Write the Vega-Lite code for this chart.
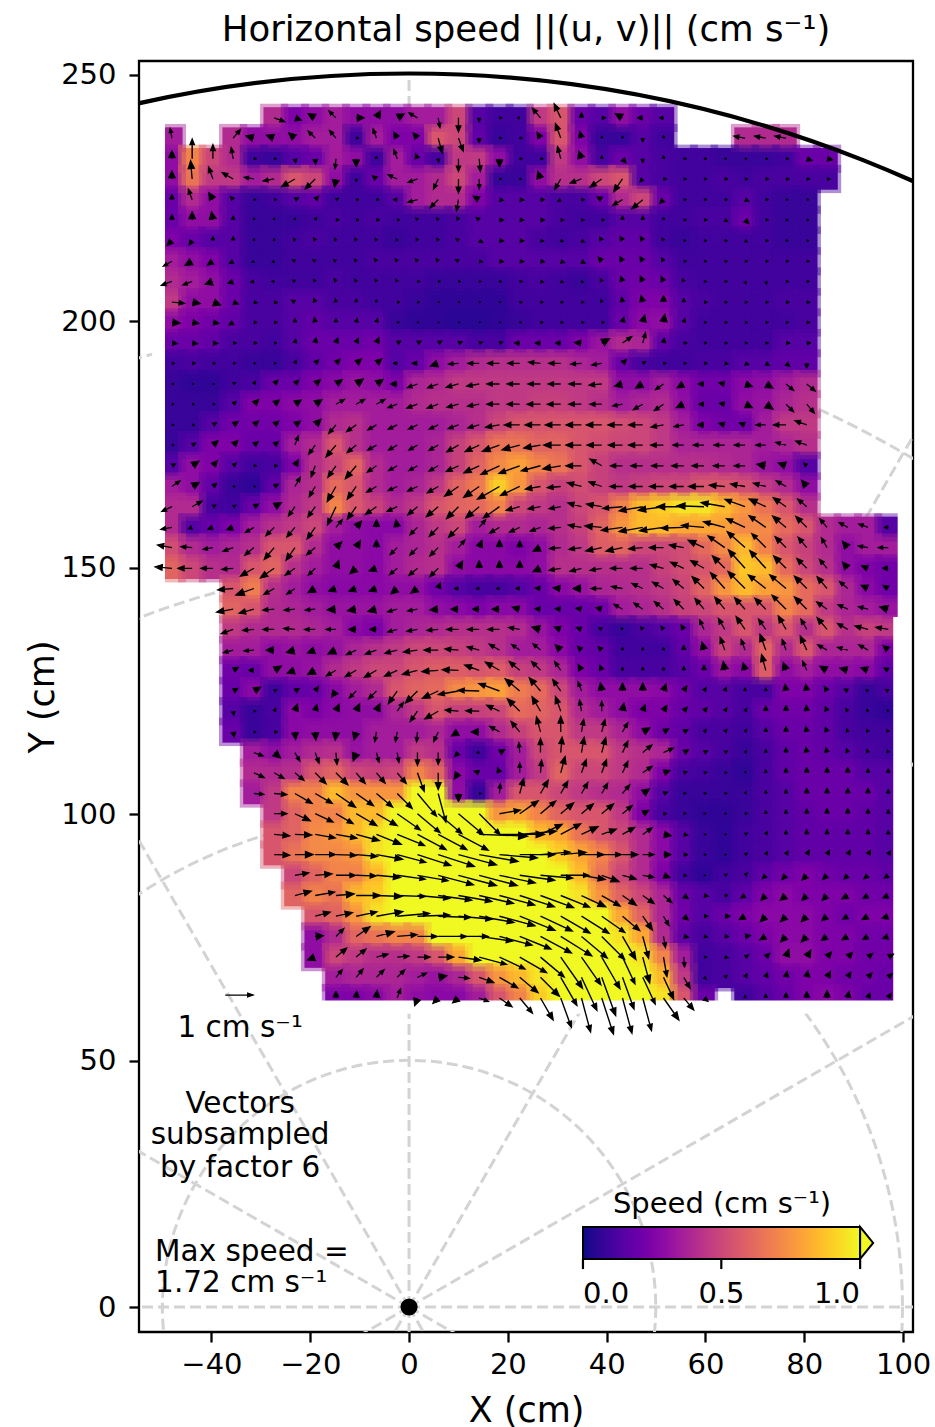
{"$schema":"https://vega.github.io/schema/vega-lite/v6.json","width":774,"height":1271,"autosize":{"type":"none"},"padding":{"left":139,"top":61,"right":22,"bottom":95},"background":"white","config":{"view":{"stroke":"black","strokeWidth":2.3},"font":"DejaVu Sans"},"title":{"text":"Horizontal speed ||(u, v)|| (cm s⁻¹)","font":"DejaVu Sans","fontSize":35.5,"fontWeight":"normal","color":"black","anchor":"middle","offset":12},
"data":{"values":[
{"x":-27.3,"y":241.3,"s":0.4,"a":110},{"x":-23.1,"y":241.3,"s":0.25,"a":110},{"x":-19,"y":241.3,"s":0.3,"a":300},{"x":-14.8,"y":241.3,"s":0.35,"a":315},{"x":-10.7,"y":241.3,"s":0.3,"a":90},{"x":-6.6,"y":241.3,"s":0.3,"a":30},{"x":-2.4,"y":241.3,"s":0.3,"a":60},{"x":1.7,"y":241.3,"s":0.35,"a":300},{"x":5.9,"y":241.3,"s":0.35,"a":170},{"x":10,"y":241.3,"s":0.5,"a":180},{"x":14.2,"y":241.3,"s":0.15,"a":180},{"x":18.3,"y":241.3,"s":0.1,"a":90},{"x":22.4,"y":241.3,"s":0.1,"a":270},{"x":26.6,"y":241.3,"s":0.45,"a":320},{"x":30.7,"y":241.3,"s":0.55,"a":335},{"x":34.9,"y":241.3,"s":0.2,"a":0},{"x":39,"y":241.3,"s":0.15,"a":90},{"x":43.2,"y":241.3,"s":0.3,"a":300},{"x":47.3,"y":241.3,"s":0.2,"a":270},{"x":51.5,"y":241.3,"s":0.15,"a":270},
{"x":-48,"y":237.2,"s":0.35,"a":350},{"x":-35.6,"y":237.2,"s":0.4,"a":40},{"x":-31.4,"y":237.2,"s":0.3,"a":285},{"x":-27.3,"y":237.2,"s":0.3,"a":290},{"x":-23.1,"y":237.2,"s":0.3,"a":310},{"x":-19,"y":237.2,"s":0.35,"a":315},{"x":-14.8,"y":237.2,"s":0.35,"a":320},{"x":-10.7,"y":237.2,"s":0.1,"a":90},{"x":-6.6,"y":237.2,"s":0.35,"a":340},{"x":-2.4,"y":237.2,"s":0.25,"a":330},{"x":1.7,"y":237.2,"s":0.25,"a":320},{"x":5.9,"y":237.2,"s":0.55,"a":165},{"x":10,"y":237.2,"s":0.5,"a":160},{"x":14.2,"y":237.2,"s":0.18,"a":180},{"x":18.3,"y":237.2,"s":0.08,"a":90},{"x":22.4,"y":237.2,"s":0.1,"a":90},{"x":26.6,"y":237.2,"s":0.25,"a":330},{"x":30.7,"y":237.2,"s":0.55,"a":340},{"x":34.9,"y":237.2,"s":0.25,"a":345},{"x":39,"y":237.2,"s":0.08,"a":0},{"x":43.2,"y":237.2,"s":0.08,"a":0},{"x":47.3,"y":237.2,"s":0.15,"a":180},{"x":51.5,"y":237.2,"s":0.1,"a":0},{"x":68,"y":237.2,"s":0.4,"a":280},{"x":72.2,"y":237.2,"s":0.4,"a":280},{"x":76.3,"y":237.2,"s":0.4,"a":280},
{"x":-48,"y":233,"s":0.3,"a":0},{"x":-43.9,"y":233,"s":0.7,"a":0},{"x":-39.7,"y":233,"s":0.5,"a":0},{"x":-35.6,"y":233,"s":0.4,"a":350},{"x":-31.4,"y":233,"s":0.1,"a":90},{"x":-27.3,"y":233,"s":0.08,"a":90},{"x":-23.1,"y":233,"s":0.15,"a":170},{"x":-19,"y":233,"s":0.2,"a":175},{"x":-14.8,"y":233,"s":0.35,"a":185},{"x":-10.7,"y":233,"s":0.3,"a":180},{"x":-6.6,"y":233,"s":0.1,"a":0},{"x":-2.4,"y":233,"s":0.35,"a":340},{"x":1.7,"y":233,"s":0.2,"a":340},{"x":5.9,"y":233,"s":0.12,"a":170},{"x":10,"y":233,"s":0.45,"a":180},{"x":14.2,"y":233,"s":0.45,"a":175},{"x":18.3,"y":233,"s":0.3,"a":180},{"x":22.4,"y":233,"s":0.1,"a":90},{"x":26.6,"y":233,"s":0.1,"a":90},{"x":30.7,"y":233,"s":0.45,"a":345},{"x":34.9,"y":233,"s":0.3,"a":340},{"x":39,"y":233,"s":0.12,"a":0},{"x":43.2,"y":233,"s":0.2,"a":140},{"x":47.3,"y":233,"s":0.15,"a":180},{"x":51.5,"y":233,"s":0.12,"a":0},{"x":55.6,"y":233,"s":0.1,"a":90},{"x":59.7,"y":233,"s":0.1,"a":90},{"x":63.9,"y":233,"s":0.08,"a":90},{"x":68,"y":233,"s":0.08,"a":90},{"x":72.2,"y":233,"s":0.08,"a":90},{"x":76.3,"y":233,"s":0.1,"a":90},{"x":80.5,"y":233,"s":0.2,"a":110},{"x":84.6,"y":233,"s":0.2,"a":100},
{"x":-48,"y":228.9,"s":0.3,"a":0},{"x":-43.9,"y":228.9,"s":0.65,"a":355},{"x":-39.7,"y":228.9,"s":0.45,"a":340},{"x":-35.6,"y":228.9,"s":0.45,"a":300},{"x":-31.4,"y":228.9,"s":0.35,"a":280},{"x":-27.3,"y":228.9,"s":0.4,"a":260},{"x":-23.1,"y":228.9,"s":0.55,"a":240},{"x":-19,"y":228.9,"s":0.5,"a":225},{"x":-14.8,"y":228.9,"s":0.3,"a":190},{"x":-10.7,"y":228.9,"s":0.1,"a":180},{"x":-6.6,"y":228.9,"s":0.2,"a":310},{"x":-2.4,"y":228.9,"s":0.35,"a":295},{"x":1.7,"y":228.9,"s":0.35,"a":250},{"x":5.9,"y":228.9,"s":0.4,"a":205},{"x":10,"y":228.9,"s":0.5,"a":180},{"x":14.2,"y":228.9,"s":0.35,"a":180},{"x":18.3,"y":228.9,"s":0.08,"a":90},{"x":22.4,"y":228.9,"s":0.08,"a":90},{"x":26.6,"y":228.9,"s":0.3,"a":340},{"x":30.7,"y":228.9,"s":0.42,"a":210},{"x":34.9,"y":228.9,"s":0.42,"a":250},{"x":39,"y":228.9,"s":0.5,"a":235},{"x":43.2,"y":228.9,"s":0.55,"a":215},{"x":47.3,"y":228.9,"s":0.15,"a":225},{"x":51.5,"y":228.9,"s":0.12,"a":90},{"x":55.6,"y":228.9,"s":0.1,"a":90},{"x":59.7,"y":228.9,"s":0.1,"a":90},{"x":63.9,"y":228.9,"s":0.12,"a":90},{"x":68,"y":228.9,"s":0.1,"a":90},{"x":72.2,"y":228.9,"s":0.12,"a":90},{"x":76.3,"y":228.9,"s":0.12,"a":90},{"x":80.5,"y":228.9,"s":0.12,"a":90},{"x":84.6,"y":228.9,"s":0.12,"a":90},
{"x":-48,"y":224.7,"s":0.2,"a":0},{"x":-43.9,"y":224.7,"s":0.4,"a":340},{"x":-39.7,"y":224.7,"s":0.3,"a":330},{"x":-35.6,"y":224.7,"s":0.15,"a":320},{"x":-31.4,"y":224.7,"s":0.08,"a":90},{"x":-27.3,"y":224.7,"s":0.1,"a":90},{"x":-23.1,"y":224.7,"s":0.15,"a":60},{"x":-19,"y":224.7,"s":0.18,"a":45},{"x":-14.8,"y":224.7,"s":0.1,"a":60},{"x":-10.7,"y":224.7,"s":0.1,"a":90},{"x":-6.6,"y":224.7,"s":0.1,"a":90},{"x":-2.4,"y":224.7,"s":0.15,"a":270},{"x":1.7,"y":224.7,"s":0.35,"a":255},{"x":5.9,"y":224.7,"s":0.4,"a":225},{"x":10,"y":224.7,"s":0.4,"a":190},{"x":14.2,"y":224.7,"s":0.25,"a":300},{"x":18.3,"y":224.7,"s":0.15,"a":100},{"x":22.4,"y":224.7,"s":0.15,"a":95},{"x":26.6,"y":224.7,"s":0.15,"a":90},{"x":30.7,"y":224.7,"s":0.12,"a":240},{"x":34.9,"y":224.7,"s":0.12,"a":90},{"x":39,"y":224.7,"s":0.2,"a":300},{"x":43.2,"y":224.7,"s":0.4,"a":240},{"x":47.3,"y":224.7,"s":0.5,"a":230},{"x":51.5,"y":224.7,"s":0.2,"a":225},{"x":55.6,"y":224.7,"s":0.1,"a":90},{"x":59.7,"y":224.7,"s":0.1,"a":90},{"x":63.9,"y":224.7,"s":0.1,"a":90},{"x":68,"y":224.7,"s":0.15,"a":110},{"x":72.2,"y":224.7,"s":0.1,"a":90},{"x":76.3,"y":224.7,"s":0.08,"a":90},{"x":80.5,"y":224.7,"s":0.08,"a":90},
{"x":-48,"y":220.6,"s":0.2,"a":0},{"x":-43.9,"y":220.6,"s":0.3,"a":0},{"x":-39.7,"y":220.6,"s":0.3,"a":350},{"x":-35.6,"y":220.6,"s":0.15,"a":0},{"x":-31.4,"y":220.6,"s":0.08,"a":0},{"x":-27.3,"y":220.6,"s":0.08,"a":0},{"x":-23.1,"y":220.6,"s":0.08,"a":0},{"x":-19,"y":220.6,"s":0.1,"a":30},{"x":-14.8,"y":220.6,"s":0.12,"a":90},{"x":-10.7,"y":220.6,"s":0.1,"a":90},{"x":-6.6,"y":220.6,"s":0.12,"a":90},{"x":-2.4,"y":220.6,"s":0.1,"a":90},{"x":1.7,"y":220.6,"s":0.1,"a":320},{"x":5.9,"y":220.6,"s":0.1,"a":320},{"x":10,"y":220.6,"s":0.12,"a":330},{"x":14.2,"y":220.6,"s":0.15,"a":310},{"x":18.3,"y":220.6,"s":0.15,"a":95},{"x":22.4,"y":220.6,"s":0.15,"a":95},{"x":26.6,"y":220.6,"s":0.15,"a":95},{"x":30.7,"y":220.6,"s":0.12,"a":95},{"x":34.9,"y":220.6,"s":0.1,"a":95},{"x":39,"y":220.6,"s":0.1,"a":90},{"x":43.2,"y":220.6,"s":0.15,"a":0},{"x":47.3,"y":220.6,"s":0.15,"a":0},{"x":51.5,"y":220.6,"s":0.1,"a":0},{"x":55.6,"y":220.6,"s":0.1,"a":90},{"x":59.7,"y":220.6,"s":0.12,"a":90},{"x":63.9,"y":220.6,"s":0.12,"a":120},{"x":68,"y":220.6,"s":0.2,"a":135},{"x":72.2,"y":220.6,"s":0.1,"a":90},{"x":76.3,"y":220.6,"s":0.08,"a":90},{"x":80.5,"y":220.6,"s":0.08,"a":90},
{"x":-48,"y":216.4,"s":0.25,"a":225},{"x":-43.9,"y":216.4,"s":0.2,"a":215},{"x":-39.7,"y":216.4,"s":0.15,"a":0},{"x":-35.6,"y":216.4,"s":0.15,"a":0},{"x":-31.4,"y":216.4,"s":0.08,"a":0},{"x":-27.3,"y":216.4,"s":0.08,"a":0},{"x":-23.1,"y":216.4,"s":0.1,"a":330},{"x":-19,"y":216.4,"s":0.12,"a":330},{"x":-14.8,"y":216.4,"s":0.1,"a":330},{"x":-10.7,"y":216.4,"s":0.1,"a":330},{"x":-6.6,"y":216.4,"s":0.1,"a":330},{"x":-2.4,"y":216.4,"s":0.08,"a":330},{"x":1.7,"y":216.4,"s":0.1,"a":330},{"x":5.9,"y":216.4,"s":0.1,"a":330},{"x":10,"y":216.4,"s":0.12,"a":310},{"x":14.2,"y":216.4,"s":0.15,"a":120},{"x":18.3,"y":216.4,"s":0.15,"a":95},{"x":22.4,"y":216.4,"s":0.15,"a":95},{"x":26.6,"y":216.4,"s":0.12,"a":100},{"x":30.7,"y":216.4,"s":0.1,"a":110},{"x":34.9,"y":216.4,"s":0.12,"a":120},{"x":39,"y":216.4,"s":0.15,"a":330},{"x":43.2,"y":216.4,"s":0.18,"a":330},{"x":47.3,"y":216.4,"s":0.18,"a":330},{"x":51.5,"y":216.4,"s":0.1,"a":330},{"x":55.6,"y":216.4,"s":0.08,"a":90},{"x":59.7,"y":216.4,"s":0.1,"a":90},{"x":63.9,"y":216.4,"s":0.1,"a":90},{"x":68,"y":216.4,"s":0.1,"a":120},{"x":72.2,"y":216.4,"s":0.1,"a":90},{"x":76.3,"y":216.4,"s":0.08,"a":90},{"x":80.5,"y":216.4,"s":0.08,"a":90},
{"x":-48,"y":212.2,"s":0.35,"a":240},{"x":-43.9,"y":212.2,"s":0.3,"a":240},{"x":-39.7,"y":212.2,"s":0.25,"a":235},{"x":-35.6,"y":212.2,"s":0.15,"a":240},{"x":-31.4,"y":212.2,"s":0.08,"a":240},{"x":-27.3,"y":212.2,"s":0.08,"a":240},{"x":-23.1,"y":212.2,"s":0.1,"a":300},{"x":-19,"y":212.2,"s":0.1,"a":300},{"x":-14.8,"y":212.2,"s":0.1,"a":300},{"x":-10.7,"y":212.2,"s":0.1,"a":320},{"x":-6.6,"y":212.2,"s":0.12,"a":320},{"x":-2.4,"y":212.2,"s":0.12,"a":320},{"x":1.7,"y":212.2,"s":0.12,"a":320},{"x":5.9,"y":212.2,"s":0.12,"a":320},{"x":10,"y":212.2,"s":0.12,"a":300},{"x":14.2,"y":212.2,"s":0.12,"a":100},{"x":18.3,"y":212.2,"s":0.15,"a":95},{"x":22.4,"y":212.2,"s":0.15,"a":95},{"x":26.6,"y":212.2,"s":0.15,"a":100},{"x":30.7,"y":212.2,"s":0.15,"a":110},{"x":34.9,"y":212.2,"s":0.15,"a":120},{"x":39,"y":212.2,"s":0.2,"a":320},{"x":43.2,"y":212.2,"s":0.2,"a":330},{"x":47.3,"y":212.2,"s":0.2,"a":330},{"x":51.5,"y":212.2,"s":0.15,"a":330},{"x":55.6,"y":212.2,"s":0.1,"a":90},{"x":59.7,"y":212.2,"s":0.1,"a":90},{"x":63.9,"y":212.2,"s":0.1,"a":90},{"x":68,"y":212.2,"s":0.1,"a":90},{"x":72.2,"y":212.2,"s":0.1,"a":90},{"x":76.3,"y":212.2,"s":0.1,"a":90},{"x":80.5,"y":212.2,"s":0.1,"a":90},
{"x":-48,"y":208.1,"s":0.4,"a":250},{"x":-43.9,"y":208.1,"s":0.35,"a":250},{"x":-39.7,"y":208.1,"s":0.3,"a":250},{"x":-35.6,"y":208.1,"s":0.2,"a":250},{"x":-31.4,"y":208.1,"s":0.12,"a":260},{"x":-27.3,"y":208.1,"s":0.1,"a":270},{"x":-23.1,"y":208.1,"s":0.1,"a":300},{"x":-19,"y":208.1,"s":0.1,"a":320},{"x":-14.8,"y":208.1,"s":0.12,"a":330},{"x":-10.7,"y":208.1,"s":0.1,"a":330},{"x":-6.6,"y":208.1,"s":0.1,"a":330},{"x":-2.4,"y":208.1,"s":0.1,"a":330},{"x":1.7,"y":208.1,"s":0.1,"a":90},{"x":5.9,"y":208.1,"s":0.08,"a":90},{"x":10,"y":208.1,"s":0.08,"a":90},{"x":14.2,"y":208.1,"s":0.08,"a":90},{"x":18.3,"y":208.1,"s":0.08,"a":90},{"x":22.4,"y":208.1,"s":0.1,"a":90},{"x":26.6,"y":208.1,"s":0.12,"a":100},{"x":30.7,"y":208.1,"s":0.1,"a":110},{"x":34.9,"y":208.1,"s":0.08,"a":110},{"x":39,"y":208.1,"s":0.12,"a":335},{"x":43.2,"y":208.1,"s":0.2,"a":340},{"x":47.3,"y":208.1,"s":0.22,"a":335},{"x":51.5,"y":208.1,"s":0.2,"a":335},{"x":55.6,"y":208.1,"s":0.12,"a":335},{"x":59.7,"y":208.1,"s":0.1,"a":90},{"x":63.9,"y":208.1,"s":0.1,"a":90},{"x":68,"y":208.1,"s":0.1,"a":160},{"x":72.2,"y":208.1,"s":0.1,"a":160},{"x":76.3,"y":208.1,"s":0.1,"a":90},{"x":80.5,"y":208.1,"s":0.1,"a":90},
{"x":-48,"y":203.9,"s":0.45,"a":95},{"x":-43.9,"y":203.9,"s":0.3,"a":100},{"x":-39.7,"y":203.9,"s":0.3,"a":110},{"x":-35.6,"y":203.9,"s":0.2,"a":110},{"x":-31.4,"y":203.9,"s":0.12,"a":100},{"x":-27.3,"y":203.9,"s":0.12,"a":100},{"x":-23.1,"y":203.9,"s":0.15,"a":300},{"x":-19,"y":203.9,"s":0.15,"a":340},{"x":-14.8,"y":203.9,"s":0.12,"a":350},{"x":-10.7,"y":203.9,"s":0.12,"a":0},{"x":-6.6,"y":203.9,"s":0.1,"a":0},{"x":-2.4,"y":203.9,"s":0.1,"a":90},{"x":1.7,"y":203.9,"s":0.08,"a":90},{"x":5.9,"y":203.9,"s":0.06,"a":90},{"x":10,"y":203.9,"s":0.06,"a":90},{"x":14.2,"y":203.9,"s":0.06,"a":90},{"x":18.3,"y":203.9,"s":0.06,"a":90},{"x":22.4,"y":203.9,"s":0.1,"a":90},{"x":26.6,"y":203.9,"s":0.1,"a":90},{"x":30.7,"y":203.9,"s":0.1,"a":90},{"x":34.9,"y":203.9,"s":0.1,"a":90},{"x":39,"y":203.9,"s":0.1,"a":340},{"x":43.2,"y":203.9,"s":0.18,"a":350},{"x":47.3,"y":203.9,"s":0.25,"a":345},{"x":51.5,"y":203.9,"s":0.25,"a":0},{"x":55.6,"y":203.9,"s":0.15,"a":0},{"x":59.7,"y":203.9,"s":0.12,"a":90},{"x":63.9,"y":203.9,"s":0.1,"a":90},{"x":68,"y":203.9,"s":0.1,"a":90},{"x":72.2,"y":203.9,"s":0.1,"a":90},{"x":76.3,"y":203.9,"s":0.12,"a":90},{"x":80.5,"y":203.9,"s":0.12,"a":90},
{"x":-48,"y":199.8,"s":0.3,"a":95},{"x":-43.9,"y":199.8,"s":0.25,"a":100},{"x":-39.7,"y":199.8,"s":0.22,"a":100},{"x":-35.6,"y":199.8,"s":0.18,"a":240},{"x":-31.4,"y":199.8,"s":0.12,"a":90},{"x":-27.3,"y":199.8,"s":0.12,"a":90},{"x":-23.1,"y":199.8,"s":0.15,"a":0},{"x":-19,"y":199.8,"s":0.18,"a":350},{"x":-14.8,"y":199.8,"s":0.15,"a":0},{"x":-10.7,"y":199.8,"s":0.15,"a":15},{"x":-6.6,"y":199.8,"s":0.15,"a":15},{"x":-2.4,"y":199.8,"s":0.08,"a":90},{"x":1.7,"y":199.8,"s":0.06,"a":90},{"x":5.9,"y":199.8,"s":0.06,"a":90},{"x":10,"y":199.8,"s":0.05,"a":90},{"x":14.2,"y":199.8,"s":0.05,"a":90},{"x":18.3,"y":199.8,"s":0.06,"a":90},{"x":22.4,"y":199.8,"s":0.08,"a":90},{"x":26.6,"y":199.8,"s":0.1,"a":90},{"x":30.7,"y":199.8,"s":0.1,"a":90},{"x":34.9,"y":199.8,"s":0.1,"a":90},{"x":39,"y":199.8,"s":0.1,"a":90},{"x":43.2,"y":199.8,"s":0.2,"a":15},{"x":47.3,"y":199.8,"s":0.28,"a":15},{"x":51.5,"y":199.8,"s":0.3,"a":10},{"x":55.6,"y":199.8,"s":0.15,"a":15},{"x":59.7,"y":199.8,"s":0.1,"a":90},{"x":63.9,"y":199.8,"s":0.1,"a":90},{"x":68,"y":199.8,"s":0.1,"a":90},{"x":72.2,"y":199.8,"s":0.1,"a":90},{"x":76.3,"y":199.8,"s":0.1,"a":90},{"x":80.5,"y":199.8,"s":0.12,"a":90},
{"x":-48,"y":195.6,"s":0.2,"a":95},{"x":-43.9,"y":195.6,"s":0.2,"a":95},{"x":-39.7,"y":195.6,"s":0.18,"a":95},{"x":-35.6,"y":195.6,"s":0.12,"a":90},{"x":-31.4,"y":195.6,"s":0.12,"a":90},{"x":-27.3,"y":195.6,"s":0.1,"a":90},{"x":-23.1,"y":195.6,"s":0.15,"a":10},{"x":-19,"y":195.6,"s":0.2,"a":10},{"x":-14.8,"y":195.6,"s":0.2,"a":20},{"x":-10.7,"y":195.6,"s":0.2,"a":25},{"x":-6.6,"y":195.6,"s":0.22,"a":25},{"x":-2.4,"y":195.6,"s":0.15,"a":60},{"x":1.7,"y":195.6,"s":0.15,"a":60},{"x":5.9,"y":195.6,"s":0.15,"a":60},{"x":10,"y":195.6,"s":0.15,"a":70},{"x":14.2,"y":195.6,"s":0.12,"a":70},{"x":18.3,"y":195.6,"s":0.12,"a":70},{"x":22.4,"y":195.6,"s":0.2,"a":270},{"x":26.6,"y":195.6,"s":0.2,"a":270},{"x":30.7,"y":195.6,"s":0.2,"a":270},{"x":34.9,"y":195.6,"s":0.25,"a":275},{"x":39,"y":195.6,"s":0.32,"a":60},{"x":43.2,"y":195.6,"s":0.4,"a":55},{"x":47.3,"y":195.6,"s":0.38,"a":15},{"x":51.5,"y":195.6,"s":0.18,"a":10},{"x":55.6,"y":195.6,"s":0.12,"a":90},{"x":59.7,"y":195.6,"s":0.1,"a":90},{"x":63.9,"y":195.6,"s":0.1,"a":90},{"x":68,"y":195.6,"s":0.1,"a":90},{"x":72.2,"y":195.6,"s":0.1,"a":90},{"x":76.3,"y":195.6,"s":0.15,"a":90},{"x":80.5,"y":195.6,"s":0.15,"a":90},
{"x":-48,"y":191.5,"s":0.1,"a":90},{"x":-43.9,"y":191.5,"s":0.12,"a":90},{"x":-39.7,"y":191.5,"s":0.1,"a":90},{"x":-35.6,"y":191.5,"s":0.1,"a":90},{"x":-31.4,"y":191.5,"s":0.08,"a":90},{"x":-27.3,"y":191.5,"s":0.08,"a":90},{"x":-23.1,"y":191.5,"s":0.12,"a":20},{"x":-19,"y":191.5,"s":0.18,"a":45},{"x":-14.8,"y":191.5,"s":0.22,"a":45},{"x":-10.7,"y":191.5,"s":0.25,"a":50},{"x":-6.6,"y":191.5,"s":0.25,"a":50},{"x":-2.4,"y":191.5,"s":0.15,"a":270},{"x":1.7,"y":191.5,"s":0.2,"a":270},{"x":5.9,"y":191.5,"s":0.3,"a":250},{"x":10,"y":191.5,"s":0.35,"a":265},{"x":14.2,"y":191.5,"s":0.4,"a":270},{"x":18.3,"y":191.5,"s":0.42,"a":270},{"x":22.4,"y":191.5,"s":0.42,"a":270},{"x":26.6,"y":191.5,"s":0.42,"a":275},{"x":30.7,"y":191.5,"s":0.42,"a":270},{"x":34.9,"y":191.5,"s":0.38,"a":265},{"x":39,"y":191.5,"s":0.35,"a":260},{"x":43.2,"y":191.5,"s":0.2,"a":45},{"x":47.3,"y":191.5,"s":0.12,"a":60},{"x":51.5,"y":191.5,"s":0.1,"a":90},{"x":55.6,"y":191.5,"s":0.1,"a":90},{"x":59.7,"y":191.5,"s":0.12,"a":90},{"x":63.9,"y":191.5,"s":0.12,"a":100},{"x":68,"y":191.5,"s":0.15,"a":110},{"x":72.2,"y":191.5,"s":0.15,"a":120},{"x":76.3,"y":191.5,"s":0.18,"a":130},{"x":80.5,"y":191.5,"s":0.18,"a":180},
{"x":-48,"y":187.3,"s":0.08,"a":90},{"x":-43.9,"y":187.3,"s":0.06,"a":90},{"x":-39.7,"y":187.3,"s":0.06,"a":90},{"x":-35.6,"y":187.3,"s":0.1,"a":60},{"x":-31.4,"y":187.3,"s":0.12,"a":30},{"x":-27.3,"y":187.3,"s":0.2,"a":45},{"x":-23.1,"y":187.3,"s":0.2,"a":45},{"x":-19,"y":187.3,"s":0.25,"a":50},{"x":-14.8,"y":187.3,"s":0.28,"a":55},{"x":-10.7,"y":187.3,"s":0.32,"a":55},{"x":-6.6,"y":187.3,"s":0.3,"a":55},{"x":-2.4,"y":187.3,"s":0.25,"a":270},{"x":1.7,"y":187.3,"s":0.38,"a":250},{"x":5.9,"y":187.3,"s":0.4,"a":250},{"x":10,"y":187.3,"s":0.45,"a":255},{"x":14.2,"y":187.3,"s":0.45,"a":260},{"x":18.3,"y":187.3,"s":0.45,"a":270},{"x":22.4,"y":187.3,"s":0.45,"a":270},{"x":26.6,"y":187.3,"s":0.45,"a":270},{"x":30.7,"y":187.3,"s":0.45,"a":270},{"x":34.9,"y":187.3,"s":0.45,"a":270},{"x":39,"y":187.3,"s":0.45,"a":265},{"x":43.2,"y":187.3,"s":0.3,"a":255},{"x":47.3,"y":187.3,"s":0.3,"a":240},{"x":51.5,"y":187.3,"s":0.35,"a":235},{"x":55.6,"y":187.3,"s":0.28,"a":240},{"x":59.7,"y":187.3,"s":0.22,"a":270},{"x":63.9,"y":187.3,"s":0.22,"a":280},{"x":68,"y":187.3,"s":0.28,"a":110},{"x":72.2,"y":187.3,"s":0.3,"a":120},{"x":76.3,"y":187.3,"s":0.35,"a":130},{"x":80.5,"y":187.3,"s":0.4,"a":130},
{"x":-48,"y":183.2,"s":0.08,"a":90},{"x":-43.9,"y":183.2,"s":0.08,"a":90},{"x":-39.7,"y":183.2,"s":0.08,"a":90},{"x":-35.6,"y":183.2,"s":0.15,"a":45},{"x":-31.4,"y":183.2,"s":0.25,"a":45},{"x":-27.3,"y":183.2,"s":0.25,"a":50},{"x":-23.1,"y":183.2,"s":0.28,"a":55},{"x":-19,"y":183.2,"s":0.3,"a":55},{"x":-14.8,"y":183.2,"s":0.35,"a":60},{"x":-10.7,"y":183.2,"s":0.35,"a":60},{"x":-6.6,"y":183.2,"s":0.35,"a":60},{"x":-2.4,"y":183.2,"s":0.35,"a":250},{"x":1.7,"y":183.2,"s":0.4,"a":250},{"x":5.9,"y":183.2,"s":0.42,"a":250},{"x":10,"y":183.2,"s":0.42,"a":255},{"x":14.2,"y":183.2,"s":0.42,"a":260},{"x":18.3,"y":183.2,"s":0.45,"a":270},{"x":22.4,"y":183.2,"s":0.45,"a":270},{"x":26.6,"y":183.2,"s":0.48,"a":270},{"x":30.7,"y":183.2,"s":0.48,"a":270},{"x":34.9,"y":183.2,"s":0.45,"a":270},{"x":39,"y":183.2,"s":0.42,"a":270},{"x":43.2,"y":183.2,"s":0.35,"a":260},{"x":47.3,"y":183.2,"s":0.38,"a":240},{"x":51.5,"y":183.2,"s":0.4,"a":235},{"x":55.6,"y":183.2,"s":0.3,"a":245},{"x":59.7,"y":183.2,"s":0.2,"a":270},{"x":63.9,"y":183.2,"s":0.2,"a":280},{"x":68,"y":183.2,"s":0.3,"a":115},{"x":72.2,"y":183.2,"s":0.32,"a":125},{"x":76.3,"y":183.2,"s":0.38,"a":135},{"x":80.5,"y":183.2,"s":0.42,"a":140},
{"x":-48,"y":179,"s":0.08,"a":90},{"x":-43.9,"y":179,"s":0.08,"a":90},{"x":-39.7,"y":179,"s":0.15,"a":60},{"x":-35.6,"y":179,"s":0.22,"a":55},{"x":-31.4,"y":179,"s":0.22,"a":50},{"x":-27.3,"y":179,"s":0.22,"a":50},{"x":-23.1,"y":179,"s":0.25,"a":55},{"x":-19,"y":179,"s":0.3,"a":45},{"x":-14.8,"y":179,"s":0.4,"a":220},{"x":-10.7,"y":179,"s":0.42,"a":235},{"x":-6.6,"y":179,"s":0.35,"a":240},{"x":-2.4,"y":179,"s":0.35,"a":245},{"x":1.7,"y":179,"s":0.35,"a":245},{"x":5.9,"y":179,"s":0.35,"a":245},{"x":10,"y":179,"s":0.38,"a":250},{"x":14.2,"y":179,"s":0.42,"a":255},{"x":18.3,"y":179,"s":0.5,"a":260},{"x":22.4,"y":179,"s":0.55,"a":270},{"x":26.6,"y":179,"s":0.55,"a":270},{"x":30.7,"y":179,"s":0.55,"a":270},{"x":34.9,"y":179,"s":0.55,"a":270},{"x":39,"y":179,"s":0.55,"a":270},{"x":43.2,"y":179,"s":0.52,"a":270},{"x":47.3,"y":179,"s":0.5,"a":270},{"x":51.5,"y":179,"s":0.45,"a":260},{"x":55.6,"y":179,"s":0.35,"a":260},{"x":59.7,"y":179,"s":0.25,"a":270},{"x":63.9,"y":179,"s":0.22,"a":285},{"x":68,"y":179,"s":0.22,"a":290},{"x":72.2,"y":179,"s":0.35,"a":270},{"x":76.3,"y":179,"s":0.45,"a":270},{"x":80.5,"y":179,"s":0.45,"a":290},
{"x":-48,"y":174.9,"s":0.08,"a":90},{"x":-43.9,"y":174.9,"s":0.15,"a":60},{"x":-39.7,"y":174.9,"s":0.25,"a":50},{"x":-35.6,"y":174.9,"s":0.25,"a":45},{"x":-31.4,"y":174.9,"s":0.2,"a":50},{"x":-27.3,"y":174.9,"s":0.2,"a":50},{"x":-23.1,"y":174.9,"s":0.35,"a":20},{"x":-19,"y":174.9,"s":0.4,"a":215},{"x":-14.8,"y":174.9,"s":0.55,"a":220},{"x":-10.7,"y":174.9,"s":0.42,"a":230},{"x":-6.6,"y":174.9,"s":0.35,"a":240},{"x":-2.4,"y":174.9,"s":0.35,"a":240},{"x":1.7,"y":174.9,"s":0.35,"a":240},{"x":5.9,"y":174.9,"s":0.38,"a":240},{"x":10,"y":174.9,"s":0.48,"a":240},{"x":14.2,"y":174.9,"s":0.55,"a":245},{"x":18.3,"y":174.9,"s":0.65,"a":250},{"x":22.4,"y":174.9,"s":0.65,"a":255},{"x":26.6,"y":174.9,"s":0.6,"a":260},{"x":30.7,"y":174.9,"s":0.6,"a":270},{"x":34.9,"y":174.9,"s":0.55,"a":270},{"x":39,"y":174.9,"s":0.52,"a":270},{"x":43.2,"y":174.9,"s":0.5,"a":270},{"x":47.3,"y":174.9,"s":0.5,"a":270},{"x":51.5,"y":174.9,"s":0.45,"a":270},{"x":55.6,"y":174.9,"s":0.38,"a":270},{"x":59.7,"y":174.9,"s":0.38,"a":270},{"x":63.9,"y":174.9,"s":0.38,"a":270},{"x":68,"y":174.9,"s":0.38,"a":270},{"x":72.2,"y":174.9,"s":0.35,"a":270},{"x":76.3,"y":174.9,"s":0.38,"a":285},{"x":80.5,"y":174.9,"s":0.42,"a":290},
{"x":-48,"y":170.7,"s":0.15,"a":60},{"x":-43.9,"y":170.7,"s":0.3,"a":55},{"x":-39.7,"y":170.7,"s":0.25,"a":40},{"x":-35.6,"y":170.7,"s":0.15,"a":50},{"x":-31.4,"y":170.7,"s":0.1,"a":90},{"x":-27.3,"y":170.7,"s":0.12,"a":90},{"x":-23.1,"y":170.7,"s":0.25,"a":30},{"x":-19,"y":170.7,"s":0.42,"a":200},{"x":-14.8,"y":170.7,"s":0.5,"a":215},{"x":-10.7,"y":170.7,"s":0.6,"a":220},{"x":-6.6,"y":170.7,"s":0.4,"a":235},{"x":-2.4,"y":170.7,"s":0.35,"a":240},{"x":1.7,"y":170.7,"s":0.35,"a":240},{"x":5.9,"y":170.7,"s":0.38,"a":240},{"x":10,"y":170.7,"s":0.48,"a":245},{"x":14.2,"y":170.7,"s":0.6,"a":245},{"x":18.3,"y":170.7,"s":0.72,"a":245},{"x":22.4,"y":170.7,"s":0.78,"a":250},{"x":26.6,"y":170.7,"s":0.7,"a":255},{"x":30.7,"y":170.7,"s":0.65,"a":260},{"x":34.9,"y":170.7,"s":0.55,"a":270},{"x":39,"y":170.7,"s":0.48,"a":300},{"x":43.2,"y":170.7,"s":0.42,"a":270},{"x":47.3,"y":170.7,"s":0.42,"a":270},{"x":51.5,"y":170.7,"s":0.42,"a":270},{"x":55.6,"y":170.7,"s":0.42,"a":270},{"x":59.7,"y":170.7,"s":0.42,"a":270},{"x":63.9,"y":170.7,"s":0.4,"a":270},{"x":68,"y":170.7,"s":0.38,"a":270},{"x":72.2,"y":170.7,"s":0.33,"a":280},{"x":76.3,"y":170.7,"s":0.3,"a":290},{"x":80.5,"y":170.7,"s":0.15,"a":310},
{"x":-48,"y":166.5,"s":0.35,"a":55},{"x":-43.9,"y":166.5,"s":0.3,"a":60},{"x":-39.7,"y":166.5,"s":0.18,"a":50},{"x":-35.6,"y":166.5,"s":0.08,"a":90},{"x":-31.4,"y":166.5,"s":0.06,"a":90},{"x":-27.3,"y":166.5,"s":0.18,"a":60},{"x":-23.1,"y":166.5,"s":0.38,"a":30},{"x":-19,"y":166.5,"s":0.42,"a":210},{"x":-14.8,"y":166.5,"s":0.62,"a":210},{"x":-10.7,"y":166.5,"s":0.55,"a":215},{"x":-6.6,"y":166.5,"s":0.4,"a":240},{"x":-2.4,"y":166.5,"s":0.35,"a":245},{"x":1.7,"y":166.5,"s":0.38,"a":245},{"x":5.9,"y":166.5,"s":0.45,"a":240},{"x":10,"y":166.5,"s":0.6,"a":235},{"x":14.2,"y":166.5,"s":0.68,"a":235},{"x":18.3,"y":166.5,"s":0.9,"a":240},{"x":22.4,"y":166.5,"s":0.75,"a":245},{"x":26.6,"y":166.5,"s":0.55,"a":260},{"x":30.7,"y":166.5,"s":0.48,"a":265},{"x":34.9,"y":166.5,"s":0.52,"a":285},{"x":39,"y":166.5,"s":0.48,"a":290},{"x":43.2,"y":166.5,"s":0.45,"a":270},{"x":47.3,"y":166.5,"s":0.48,"a":270},{"x":51.5,"y":166.5,"s":0.5,"a":270},{"x":55.6,"y":166.5,"s":0.5,"a":270},{"x":59.7,"y":166.5,"s":0.55,"a":270},{"x":63.9,"y":166.5,"s":0.55,"a":275},{"x":68,"y":166.5,"s":0.52,"a":280},{"x":72.2,"y":166.5,"s":0.45,"a":285},{"x":76.3,"y":166.5,"s":0.4,"a":300},{"x":80.5,"y":166.5,"s":0.3,"a":320},
{"x":-48,"y":162.4,"s":0.4,"a":245},{"x":-43.9,"y":162.4,"s":0.4,"a":60},{"x":-39.7,"y":162.4,"s":0.12,"a":60},{"x":-35.6,"y":162.4,"s":0.1,"a":60},{"x":-31.4,"y":162.4,"s":0.2,"a":60},{"x":-27.3,"y":162.4,"s":0.3,"a":60},{"x":-23.1,"y":162.4,"s":0.4,"a":215},{"x":-19,"y":162.4,"s":0.45,"a":215},{"x":-14.8,"y":162.4,"s":0.7,"a":205},{"x":-10.7,"y":162.4,"s":0.55,"a":215},{"x":-6.6,"y":162.4,"s":0.48,"a":235},{"x":-2.4,"y":162.4,"s":0.4,"a":245},{"x":1.7,"y":162.4,"s":0.45,"a":230},{"x":5.9,"y":162.4,"s":0.55,"a":230},{"x":10,"y":162.4,"s":0.6,"a":225},{"x":14.2,"y":162.4,"s":0.62,"a":230},{"x":18.3,"y":162.4,"s":0.7,"a":235},{"x":22.4,"y":162.4,"s":0.5,"a":255},{"x":26.6,"y":162.4,"s":0.45,"a":260},{"x":30.7,"y":162.4,"s":0.42,"a":260},{"x":34.9,"y":162.4,"s":0.5,"a":285},{"x":39,"y":162.4,"s":0.55,"a":280},{"x":43.2,"y":162.4,"s":0.7,"a":265},{"x":47.3,"y":162.4,"s":0.85,"a":260},{"x":51.5,"y":162.4,"s":0.9,"a":262},{"x":55.6,"y":162.4,"s":0.95,"a":270},{"x":59.7,"y":162.4,"s":0.95,"a":272},{"x":63.9,"y":162.4,"s":0.85,"a":280},{"x":68,"y":162.4,"s":0.75,"a":290},{"x":72.2,"y":162.4,"s":0.65,"a":295},{"x":76.3,"y":162.4,"s":0.55,"a":305},{"x":80.5,"y":162.4,"s":0.42,"a":310},
{"x":-48,"y":158.2,"s":0.4,"a":260},{"x":-43.9,"y":158.2,"s":0.15,"a":250},{"x":-39.7,"y":158.2,"s":0.2,"a":250},{"x":-35.6,"y":158.2,"s":0.25,"a":250},{"x":-31.4,"y":158.2,"s":0.35,"a":240},{"x":-27.3,"y":158.2,"s":0.42,"a":225},{"x":-23.1,"y":158.2,"s":0.45,"a":220},{"x":-19,"y":158.2,"s":0.5,"a":215},{"x":-14.8,"y":158.2,"s":0.35,"a":40},{"x":-10.7,"y":158.2,"s":0.3,"a":40},{"x":-6.6,"y":158.2,"s":0.28,"a":0},{"x":-2.4,"y":158.2,"s":0.28,"a":350},{"x":1.7,"y":158.2,"s":0.38,"a":225},{"x":5.9,"y":158.2,"s":0.45,"a":225},{"x":10,"y":158.2,"s":0.5,"a":225},{"x":14.2,"y":158.2,"s":0.35,"a":40},{"x":18.3,"y":158.2,"s":0.4,"a":240},{"x":22.4,"y":158.2,"s":0.4,"a":245},{"x":26.6,"y":158.2,"s":0.38,"a":250},{"x":30.7,"y":158.2,"s":0.42,"a":265},{"x":34.9,"y":158.2,"s":0.48,"a":280},{"x":39,"y":158.2,"s":0.6,"a":275},{"x":43.2,"y":158.2,"s":0.75,"a":262},{"x":47.3,"y":158.2,"s":0.85,"a":260},{"x":51.5,"y":158.2,"s":0.85,"a":262},{"x":55.6,"y":158.2,"s":0.8,"a":268},{"x":59.7,"y":158.2,"s":0.8,"a":275},{"x":63.9,"y":158.2,"s":0.78,"a":285},{"x":68,"y":158.2,"s":0.72,"a":295},{"x":72.2,"y":158.2,"s":0.72,"a":305},{"x":76.3,"y":158.2,"s":0.62,"a":310},{"x":80.5,"y":158.2,"s":0.55,"a":315},{"x":84.6,"y":158.2,"s":0.4,"a":320},{"x":88.8,"y":158.2,"s":0.35,"a":300},{"x":92.9,"y":158.2,"s":0.35,"a":290},{"x":97,"y":158.2,"s":0.15,"a":270},
{"x":-48,"y":154.1,"s":0.52,"a":280},{"x":-43.9,"y":154.1,"s":0.4,"a":275},{"x":-39.7,"y":154.1,"s":0.35,"a":260},{"x":-35.6,"y":154.1,"s":0.38,"a":250},{"x":-31.4,"y":154.1,"s":0.42,"a":230},{"x":-27.3,"y":154.1,"s":0.55,"a":220},{"x":-23.1,"y":154.1,"s":0.55,"a":215},{"x":-19,"y":154.1,"s":0.4,"a":230},{"x":-14.8,"y":154.1,"s":0.3,"a":45},{"x":-10.7,"y":154.1,"s":0.3,"a":30},{"x":-6.6,"y":154.1,"s":0.28,"a":0},{"x":-2.4,"y":154.1,"s":0.35,"a":225},{"x":1.7,"y":154.1,"s":0.38,"a":225},{"x":5.9,"y":154.1,"s":0.42,"a":225},{"x":10,"y":154.1,"s":0.35,"a":40},{"x":14.2,"y":154.1,"s":0.28,"a":20},{"x":18.3,"y":154.1,"s":0.28,"a":0},{"x":22.4,"y":154.1,"s":0.25,"a":0},{"x":26.6,"y":154.1,"s":0.3,"a":245},{"x":30.7,"y":154.1,"s":0.4,"a":265},{"x":34.9,"y":154.1,"s":0.45,"a":262},{"x":39,"y":154.1,"s":0.58,"a":258},{"x":43.2,"y":154.1,"s":0.6,"a":258},{"x":47.3,"y":154.1,"s":0.5,"a":265},{"x":51.5,"y":154.1,"s":0.5,"a":270},{"x":55.6,"y":154.1,"s":0.52,"a":280},{"x":59.7,"y":154.1,"s":0.62,"a":295},{"x":63.9,"y":154.1,"s":0.72,"a":305},{"x":68,"y":154.1,"s":0.85,"a":312},{"x":72.2,"y":154.1,"s":0.7,"a":315},{"x":76.3,"y":154.1,"s":0.55,"a":315},{"x":80.5,"y":154.1,"s":0.48,"a":320},{"x":84.6,"y":154.1,"s":0.4,"a":330},{"x":88.8,"y":154.1,"s":0.3,"a":320},{"x":92.9,"y":154.1,"s":0.35,"a":280},{"x":97,"y":154.1,"s":0.35,"a":270},
{"x":-48,"y":149.9,"s":0.6,"a":275},{"x":-43.9,"y":149.9,"s":0.5,"a":270},{"x":-39.7,"y":149.9,"s":0.42,"a":270},{"x":-35.6,"y":149.9,"s":0.4,"a":265},{"x":-31.4,"y":149.9,"s":0.55,"a":240},{"x":-27.3,"y":149.9,"s":0.6,"a":235},{"x":-23.1,"y":149.9,"s":0.42,"a":235},{"x":-19,"y":149.9,"s":0.35,"a":225},{"x":-14.8,"y":149.9,"s":0.3,"a":20},{"x":-10.7,"y":149.9,"s":0.3,"a":230},{"x":-6.6,"y":149.9,"s":0.28,"a":250},{"x":-2.4,"y":149.9,"s":0.35,"a":230},{"x":1.7,"y":149.9,"s":0.4,"a":230},{"x":5.9,"y":149.9,"s":0.42,"a":225},{"x":10,"y":149.9,"s":0.3,"a":30},{"x":14.2,"y":149.9,"s":0.28,"a":0},{"x":18.3,"y":149.9,"s":0.28,"a":0},{"x":22.4,"y":149.9,"s":0.28,"a":0},{"x":26.6,"y":149.9,"s":0.3,"a":245},{"x":30.7,"y":149.9,"s":0.42,"a":260},{"x":34.9,"y":149.9,"s":0.42,"a":255},{"x":39,"y":149.9,"s":0.42,"a":260},{"x":43.2,"y":149.9,"s":0.42,"a":270},{"x":47.3,"y":149.9,"s":0.42,"a":270},{"x":51.5,"y":149.9,"s":0.48,"a":285},{"x":55.6,"y":149.9,"s":0.52,"a":295},{"x":59.7,"y":149.9,"s":0.55,"a":300},{"x":63.9,"y":149.9,"s":0.62,"a":315},{"x":68,"y":149.9,"s":0.88,"a":318},{"x":72.2,"y":149.9,"s":0.85,"a":318},{"x":76.3,"y":149.9,"s":0.62,"a":315},{"x":80.5,"y":149.9,"s":0.5,"a":315},{"x":84.6,"y":149.9,"s":0.42,"a":320},{"x":88.8,"y":149.9,"s":0.3,"a":320},{"x":92.9,"y":149.9,"s":0.25,"a":290},{"x":97,"y":149.9,"s":0.22,"a":270},
{"x":-35.6,"y":145.8,"s":0.55,"a":265},{"x":-31.4,"y":145.8,"s":0.68,"a":250},{"x":-27.3,"y":145.8,"s":0.42,"a":240},{"x":-23.1,"y":145.8,"s":0.35,"a":235},{"x":-19,"y":145.8,"s":0.3,"a":240},{"x":-14.8,"y":145.8,"s":0.28,"a":250},{"x":-10.7,"y":145.8,"s":0.28,"a":250},{"x":-6.6,"y":145.8,"s":0.28,"a":250},{"x":-2.4,"y":145.8,"s":0.3,"a":230},{"x":1.7,"y":145.8,"s":0.3,"a":235},{"x":5.9,"y":145.8,"s":0.22,"a":20},{"x":10,"y":145.8,"s":0.15,"a":270},{"x":14.2,"y":145.8,"s":0.12,"a":270},{"x":18.3,"y":145.8,"s":0.12,"a":270},{"x":22.4,"y":145.8,"s":0.15,"a":270},{"x":26.6,"y":145.8,"s":0.2,"a":275},{"x":30.7,"y":145.8,"s":0.28,"a":275},{"x":34.9,"y":145.8,"s":0.32,"a":270},{"x":39,"y":145.8,"s":0.38,"a":270},{"x":43.2,"y":145.8,"s":0.4,"a":280},{"x":47.3,"y":145.8,"s":0.42,"a":295},{"x":51.5,"y":145.8,"s":0.45,"a":300},{"x":55.6,"y":145.8,"s":0.5,"a":310},{"x":59.7,"y":145.8,"s":0.6,"a":315},{"x":63.9,"y":145.8,"s":0.75,"a":318},{"x":68,"y":145.8,"s":0.85,"a":315},{"x":72.2,"y":145.8,"s":0.78,"a":308},{"x":76.3,"y":145.8,"s":0.75,"a":310},{"x":80.5,"y":145.8,"s":0.62,"a":315},{"x":84.6,"y":145.8,"s":0.55,"a":320},{"x":88.8,"y":145.8,"s":0.38,"a":310},{"x":92.9,"y":145.8,"s":0.28,"a":295},{"x":97,"y":145.8,"s":0.22,"a":300},
{"x":-35.6,"y":141.6,"s":0.6,"a":260},{"x":-31.4,"y":141.6,"s":0.55,"a":255},{"x":-27.3,"y":141.6,"s":0.4,"a":265},{"x":-23.1,"y":141.6,"s":0.38,"a":265},{"x":-19,"y":141.6,"s":0.35,"a":265},{"x":-14.8,"y":141.6,"s":0.32,"a":265},{"x":-10.7,"y":141.6,"s":0.32,"a":260},{"x":-6.6,"y":141.6,"s":0.32,"a":255},{"x":-2.4,"y":141.6,"s":0.35,"a":255},{"x":1.7,"y":141.6,"s":0.35,"a":260},{"x":5.9,"y":141.6,"s":0.3,"a":265},{"x":10,"y":141.6,"s":0.28,"a":270},{"x":14.2,"y":141.6,"s":0.25,"a":270},{"x":18.3,"y":141.6,"s":0.28,"a":270},{"x":22.4,"y":141.6,"s":0.28,"a":285},{"x":26.6,"y":141.6,"s":0.2,"a":275},{"x":30.7,"y":141.6,"s":0.2,"a":275},{"x":34.9,"y":141.6,"s":0.2,"a":280},{"x":39,"y":141.6,"s":0.22,"a":285},{"x":43.2,"y":141.6,"s":0.35,"a":300},{"x":47.3,"y":141.6,"s":0.38,"a":305},{"x":51.5,"y":141.6,"s":0.42,"a":310},{"x":55.6,"y":141.6,"s":0.48,"a":315},{"x":59.7,"y":141.6,"s":0.5,"a":320},{"x":63.9,"y":141.6,"s":0.55,"a":320},{"x":68,"y":141.6,"s":0.55,"a":318},{"x":72.2,"y":141.6,"s":0.55,"a":315},{"x":76.3,"y":141.6,"s":0.7,"a":315},{"x":80.5,"y":141.6,"s":0.62,"a":315},{"x":84.6,"y":141.6,"s":0.45,"a":305},{"x":88.8,"y":141.6,"s":0.38,"a":295},{"x":92.9,"y":141.6,"s":0.35,"a":285},{"x":97,"y":141.6,"s":0.32,"a":285},
{"x":-35.6,"y":137.5,"s":0.45,"a":250},{"x":-31.4,"y":137.5,"s":0.4,"a":265},{"x":-27.3,"y":137.5,"s":0.4,"a":270},{"x":-23.1,"y":137.5,"s":0.4,"a":275},{"x":-19,"y":137.5,"s":0.38,"a":270},{"x":-14.8,"y":137.5,"s":0.35,"a":270},{"x":-10.7,"y":137.5,"s":0.28,"a":270},{"x":-6.6,"y":137.5,"s":0.25,"a":270},{"x":-2.4,"y":137.5,"s":0.35,"a":255},{"x":1.7,"y":137.5,"s":0.38,"a":260},{"x":5.9,"y":137.5,"s":0.4,"a":265},{"x":10,"y":137.5,"s":0.42,"a":270},{"x":14.2,"y":137.5,"s":0.42,"a":270},{"x":18.3,"y":137.5,"s":0.42,"a":270},{"x":22.4,"y":137.5,"s":0.4,"a":280},{"x":26.6,"y":137.5,"s":0.32,"a":285},{"x":30.7,"y":137.5,"s":0.25,"a":290},{"x":34.9,"y":137.5,"s":0.2,"a":290},{"x":39,"y":137.5,"s":0.12,"a":300},{"x":43.2,"y":137.5,"s":0.08,"a":320},{"x":47.3,"y":137.5,"s":0.12,"a":320},{"x":51.5,"y":137.5,"s":0.15,"a":320},{"x":55.6,"y":137.5,"s":0.2,"a":330},{"x":59.7,"y":137.5,"s":0.38,"a":335},{"x":63.9,"y":137.5,"s":0.45,"a":330},{"x":68,"y":137.5,"s":0.55,"a":325},{"x":72.2,"y":137.5,"s":0.45,"a":325},{"x":76.3,"y":137.5,"s":0.55,"a":330},{"x":80.5,"y":137.5,"s":0.42,"a":330},{"x":84.6,"y":137.5,"s":0.55,"a":320},{"x":88.8,"y":137.5,"s":0.42,"a":300},{"x":92.9,"y":137.5,"s":0.48,"a":285},{"x":97,"y":137.5,"s":0.45,"a":280},
{"x":-35.6,"y":133.3,"s":0.35,"a":255},{"x":-31.4,"y":133.3,"s":0.35,"a":265},{"x":-27.3,"y":133.3,"s":0.3,"a":270},{"x":-23.1,"y":133.3,"s":0.32,"a":255},{"x":-19,"y":133.3,"s":0.3,"a":250},{"x":-14.8,"y":133.3,"s":0.32,"a":245},{"x":-10.7,"y":133.3,"s":0.38,"a":245},{"x":-6.6,"y":133.3,"s":0.42,"a":250},{"x":-2.4,"y":133.3,"s":0.45,"a":255},{"x":1.7,"y":133.3,"s":0.5,"a":262},{"x":5.9,"y":133.3,"s":0.5,"a":270},{"x":10,"y":133.3,"s":0.48,"a":275},{"x":14.2,"y":133.3,"s":0.45,"a":285},{"x":18.3,"y":133.3,"s":0.42,"a":300},{"x":22.4,"y":133.3,"s":0.35,"a":305},{"x":26.6,"y":133.3,"s":0.35,"a":310},{"x":30.7,"y":133.3,"s":0.28,"a":315},{"x":34.9,"y":133.3,"s":0.2,"a":315},{"x":39,"y":133.3,"s":0.18,"a":315},{"x":43.2,"y":133.3,"s":0.1,"a":0},{"x":47.3,"y":133.3,"s":0.1,"a":0},{"x":51.5,"y":133.3,"s":0.1,"a":0},{"x":55.6,"y":133.3,"s":0.18,"a":0},{"x":59.7,"y":133.3,"s":0.3,"a":345},{"x":63.9,"y":133.3,"s":0.48,"a":340},{"x":68,"y":133.3,"s":0.4,"a":340},{"x":72.2,"y":133.3,"s":0.6,"a":340},{"x":76.3,"y":133.3,"s":0.4,"a":340},{"x":80.5,"y":133.3,"s":0.55,"a":335},{"x":84.6,"y":133.3,"s":0.38,"a":300},{"x":88.8,"y":133.3,"s":0.38,"a":285},{"x":92.9,"y":133.3,"s":0.38,"a":300},{"x":97,"y":133.3,"s":0.25,"a":310},
{"x":-35.6,"y":129.2,"s":0.22,"a":60},{"x":-31.4,"y":129.2,"s":0.2,"a":270},{"x":-27.3,"y":129.2,"s":0.3,"a":60},{"x":-23.1,"y":129.2,"s":0.3,"a":250},{"x":-19,"y":129.2,"s":0.32,"a":240},{"x":-14.8,"y":129.2,"s":0.4,"a":240},{"x":-10.7,"y":129.2,"s":0.45,"a":240},{"x":-6.6,"y":129.2,"s":0.5,"a":240},{"x":-2.4,"y":129.2,"s":0.5,"a":245},{"x":1.7,"y":129.2,"s":0.55,"a":255},{"x":5.9,"y":129.2,"s":0.58,"a":265},{"x":10,"y":129.2,"s":0.58,"a":272},{"x":14.2,"y":129.2,"s":0.55,"a":290},{"x":18.3,"y":129.2,"s":0.58,"a":300},{"x":22.4,"y":129.2,"s":0.48,"a":310},{"x":26.6,"y":129.2,"s":0.45,"a":315},{"x":30.7,"y":129.2,"s":0.38,"a":325},{"x":34.9,"y":129.2,"s":0.25,"a":330},{"x":39,"y":129.2,"s":0.2,"a":340},{"x":43.2,"y":129.2,"s":0.12,"a":0},{"x":47.3,"y":129.2,"s":0.12,"a":0},{"x":51.5,"y":129.2,"s":0.12,"a":0},{"x":55.6,"y":129.2,"s":0.15,"a":0},{"x":59.7,"y":129.2,"s":0.2,"a":0},{"x":63.9,"y":129.2,"s":0.32,"a":350},{"x":68,"y":129.2,"s":0.28,"a":345},{"x":72.2,"y":129.2,"s":0.58,"a":345},{"x":76.3,"y":129.2,"s":0.3,"a":340},{"x":80.5,"y":129.2,"s":0.35,"a":335},{"x":84.6,"y":129.2,"s":0.3,"a":300},{"x":88.8,"y":129.2,"s":0.3,"a":285},{"x":92.9,"y":129.2,"s":0.28,"a":290},{"x":97,"y":129.2,"s":0.18,"a":300},
{"x":-35.6,"y":125,"s":0.2,"a":60},{"x":-31.4,"y":125,"s":0.28,"a":60},{"x":-27.3,"y":125,"s":0.1,"a":60},{"x":-23.1,"y":125,"s":0.18,"a":60},{"x":-19,"y":125,"s":0.2,"a":35},{"x":-14.8,"y":125,"s":0.28,"a":215},{"x":-10.7,"y":125,"s":0.35,"a":225},{"x":-6.6,"y":125,"s":0.4,"a":225},{"x":-2.4,"y":125,"s":0.55,"a":215},{"x":1.7,"y":125,"s":0.6,"a":225},{"x":5.9,"y":125,"s":0.62,"a":245},{"x":10,"y":125,"s":0.72,"a":260},{"x":14.2,"y":125,"s":0.75,"a":272},{"x":18.3,"y":125,"s":0.78,"a":290},{"x":22.4,"y":125,"s":0.68,"a":310},{"x":26.6,"y":125,"s":0.62,"a":320},{"x":30.7,"y":125,"s":0.5,"a":325},{"x":34.9,"y":125,"s":0.35,"a":340},{"x":39,"y":125,"s":0.3,"a":350},{"x":43.2,"y":125,"s":0.3,"a":0},{"x":47.3,"y":125,"s":0.3,"a":0},{"x":51.5,"y":125,"s":0.28,"a":20},{"x":55.6,"y":125,"s":0.22,"a":30},{"x":59.7,"y":125,"s":0.15,"a":30},{"x":63.9,"y":125,"s":0.15,"a":20},{"x":68,"y":125,"s":0.12,"a":0},{"x":72.2,"y":125,"s":0.12,"a":0},{"x":76.3,"y":125,"s":0.25,"a":350},{"x":80.5,"y":125,"s":0.25,"a":350},{"x":84.6,"y":125,"s":0.2,"a":330},{"x":88.8,"y":125,"s":0.15,"a":300},{"x":92.9,"y":125,"s":0.08,"a":300},{"x":97,"y":125,"s":0.12,"a":300},
{"x":-35.6,"y":120.9,"s":0.15,"a":170},{"x":-31.4,"y":120.9,"s":0.08,"a":90},{"x":-27.3,"y":120.9,"s":0.12,"a":30},{"x":-23.1,"y":120.9,"s":0.28,"a":20},{"x":-19,"y":120.9,"s":0.25,"a":15},{"x":-14.8,"y":120.9,"s":0.28,"a":25},{"x":-10.7,"y":120.9,"s":0.3,"a":25},{"x":-6.6,"y":120.9,"s":0.3,"a":25},{"x":-2.4,"y":120.9,"s":0.38,"a":35},{"x":1.7,"y":120.9,"s":0.45,"a":215},{"x":5.9,"y":120.9,"s":0.55,"a":240},{"x":10,"y":120.9,"s":0.48,"a":275},{"x":14.2,"y":120.9,"s":0.48,"a":272},{"x":18.3,"y":120.9,"s":0.5,"a":295},{"x":22.4,"y":120.9,"s":0.62,"a":315},{"x":26.6,"y":120.9,"s":0.6,"a":330},{"x":30.7,"y":120.9,"s":0.55,"a":340},{"x":34.9,"y":120.9,"s":0.4,"a":350},{"x":39,"y":120.9,"s":0.35,"a":0},{"x":43.2,"y":120.9,"s":0.3,"a":10},{"x":47.3,"y":120.9,"s":0.25,"a":20},{"x":51.5,"y":120.9,"s":0.25,"a":30},{"x":55.6,"y":120.9,"s":0.2,"a":40},{"x":59.7,"y":120.9,"s":0.18,"a":40},{"x":63.9,"y":120.9,"s":0.15,"a":30},{"x":68,"y":120.9,"s":0.12,"a":30},{"x":72.2,"y":120.9,"s":0.2,"a":0},{"x":76.3,"y":120.9,"s":0.22,"a":0},{"x":80.5,"y":120.9,"s":0.22,"a":355},{"x":84.6,"y":120.9,"s":0.18,"a":340},{"x":88.8,"y":120.9,"s":0.12,"a":320},{"x":92.9,"y":120.9,"s":0.08,"a":320},{"x":97,"y":120.9,"s":0.06,"a":320},
{"x":-35.6,"y":116.7,"s":0.2,"a":170},{"x":-31.4,"y":116.7,"s":0.08,"a":90},{"x":-27.3,"y":116.7,"s":0.12,"a":90},{"x":-23.1,"y":116.7,"s":0.28,"a":175},{"x":-19,"y":116.7,"s":0.3,"a":175},{"x":-14.8,"y":116.7,"s":0.3,"a":185},{"x":-10.7,"y":116.7,"s":0.3,"a":195},{"x":-6.6,"y":116.7,"s":0.35,"a":190},{"x":-2.4,"y":116.7,"s":0.35,"a":190},{"x":1.7,"y":116.7,"s":0.35,"a":185},{"x":5.9,"y":116.7,"s":0.38,"a":205},{"x":10,"y":116.7,"s":0.3,"a":240},{"x":14.2,"y":116.7,"s":0.3,"a":270},{"x":18.3,"y":116.7,"s":0.4,"a":300},{"x":22.4,"y":116.7,"s":0.48,"a":320},{"x":26.6,"y":116.7,"s":0.55,"a":345},{"x":30.7,"y":116.7,"s":0.55,"a":0},{"x":34.9,"y":116.7,"s":0.45,"a":10},{"x":39,"y":116.7,"s":0.45,"a":15},{"x":43.2,"y":116.7,"s":0.38,"a":30},{"x":47.3,"y":116.7,"s":0.3,"a":60},{"x":51.5,"y":116.7,"s":0.22,"a":60},{"x":55.6,"y":116.7,"s":0.18,"a":60},{"x":59.7,"y":116.7,"s":0.12,"a":40},{"x":63.9,"y":116.7,"s":0.12,"a":40},{"x":68,"y":116.7,"s":0.1,"a":30},{"x":72.2,"y":116.7,"s":0.15,"a":0},{"x":76.3,"y":116.7,"s":0.2,"a":0},{"x":80.5,"y":116.7,"s":0.2,"a":350},{"x":84.6,"y":116.7,"s":0.18,"a":340},{"x":88.8,"y":116.7,"s":0.12,"a":340},{"x":92.9,"y":116.7,"s":0.1,"a":330},{"x":97,"y":116.7,"s":0.1,"a":330},
{"x":-31.4,"y":112.5,"s":0.35,"a":110},{"x":-27.3,"y":112.5,"s":0.3,"a":130},{"x":-23.1,"y":112.5,"s":0.35,"a":150},{"x":-19,"y":112.5,"s":0.4,"a":160},{"x":-14.8,"y":112.5,"s":0.42,"a":175},{"x":-10.7,"y":112.5,"s":0.32,"a":200},{"x":-6.6,"y":112.5,"s":0.35,"a":165},{"x":-2.4,"y":112.5,"s":0.35,"a":170},{"x":1.7,"y":112.5,"s":0.45,"a":180},{"x":5.9,"y":112.5,"s":0.42,"a":180},{"x":10,"y":112.5,"s":0.2,"a":225},{"x":14.2,"y":112.5,"s":0.1,"a":270},{"x":18.3,"y":112.5,"s":0.22,"a":60},{"x":22.4,"y":112.5,"s":0.35,"a":355},{"x":26.6,"y":112.5,"s":0.5,"a":0},{"x":30.7,"y":112.5,"s":0.55,"a":5},{"x":34.9,"y":112.5,"s":0.55,"a":10},{"x":39,"y":112.5,"s":0.55,"a":15},{"x":43.2,"y":112.5,"s":0.45,"a":25},{"x":47.3,"y":112.5,"s":0.42,"a":50},{"x":51.5,"y":112.5,"s":0.38,"a":65},{"x":55.6,"y":112.5,"s":0.2,"a":60},{"x":59.7,"y":112.5,"s":0.15,"a":60},{"x":63.9,"y":112.5,"s":0.12,"a":60},{"x":68,"y":112.5,"s":0.08,"a":30},{"x":72.2,"y":112.5,"s":0.12,"a":0},{"x":76.3,"y":112.5,"s":0.18,"a":0},{"x":80.5,"y":112.5,"s":0.2,"a":350},{"x":84.6,"y":112.5,"s":0.18,"a":345},{"x":88.8,"y":112.5,"s":0.15,"a":340},{"x":92.9,"y":112.5,"s":0.12,"a":340},{"x":97,"y":112.5,"s":0.1,"a":340},
{"x":-31.4,"y":108.4,"s":0.4,"a":115},{"x":-27.3,"y":108.4,"s":0.4,"a":120},{"x":-23.1,"y":108.4,"s":0.42,"a":130},{"x":-19,"y":108.4,"s":0.55,"a":135},{"x":-14.8,"y":108.4,"s":0.6,"a":135},{"x":-10.7,"y":108.4,"s":0.5,"a":140},{"x":-6.6,"y":108.4,"s":0.48,"a":140},{"x":-2.4,"y":108.4,"s":0.5,"a":140},{"x":1.7,"y":108.4,"s":0.7,"a":160},{"x":5.9,"y":108.4,"s":0.6,"a":180},{"x":10,"y":108.4,"s":0.28,"a":215},{"x":14.2,"y":108.4,"s":0.2,"a":290},{"x":18.3,"y":108.4,"s":0.2,"a":340},{"x":22.4,"y":108.4,"s":0.35,"a":0},{"x":26.6,"y":108.4,"s":0.45,"a":5},{"x":30.7,"y":108.4,"s":0.6,"a":15},{"x":34.9,"y":108.4,"s":0.5,"a":20},{"x":39,"y":108.4,"s":0.5,"a":20},{"x":43.2,"y":108.4,"s":0.45,"a":25},{"x":47.3,"y":108.4,"s":0.4,"a":55},{"x":51.5,"y":108.4,"s":0.25,"a":70},{"x":55.6,"y":108.4,"s":0.12,"a":70},{"x":59.7,"y":108.4,"s":0.1,"a":80},{"x":63.9,"y":108.4,"s":0.08,"a":80},{"x":68,"y":108.4,"s":0.06,"a":30},{"x":72.2,"y":108.4,"s":0.12,"a":0},{"x":76.3,"y":108.4,"s":0.18,"a":0},{"x":80.5,"y":108.4,"s":0.2,"a":0},{"x":84.6,"y":108.4,"s":0.2,"a":0},{"x":88.8,"y":108.4,"s":0.2,"a":0},{"x":92.9,"y":108.4,"s":0.15,"a":0},{"x":97,"y":108.4,"s":0.15,"a":0},
{"x":-31.4,"y":104.2,"s":0.35,"a":95},{"x":-27.3,"y":104.2,"s":0.45,"a":95},{"x":-23.1,"y":104.2,"s":0.7,"a":120},{"x":-19,"y":104.2,"s":0.7,"a":120},{"x":-14.8,"y":104.2,"s":0.85,"a":125},{"x":-10.7,"y":104.2,"s":0.75,"a":125},{"x":-6.6,"y":104.2,"s":0.75,"a":130},{"x":-2.4,"y":104.2,"s":0.75,"a":135},{"x":1.7,"y":104.2,"s":1.05,"a":140},{"x":5.9,"y":104.2,"s":1.05,"a":165},{"x":10,"y":104.2,"s":0.3,"a":180},{"x":14.2,"y":104.2,"s":0.08,"a":90},{"x":18.3,"y":104.2,"s":0.35,"a":5},{"x":22.4,"y":104.2,"s":0.55,"a":15},{"x":26.6,"y":104.2,"s":0.55,"a":30},{"x":30.7,"y":104.2,"s":0.5,"a":30},{"x":34.9,"y":104.2,"s":0.45,"a":30},{"x":39,"y":104.2,"s":0.42,"a":30},{"x":43.2,"y":104.2,"s":0.4,"a":40},{"x":47.3,"y":104.2,"s":0.3,"a":55},{"x":51.5,"y":104.2,"s":0.15,"a":70},{"x":55.6,"y":104.2,"s":0.08,"a":80},{"x":59.7,"y":104.2,"s":0.08,"a":80},{"x":63.9,"y":104.2,"s":0.08,"a":80},{"x":68,"y":104.2,"s":0.08,"a":30},{"x":72.2,"y":104.2,"s":0.12,"a":0},{"x":76.3,"y":104.2,"s":0.15,"a":0},{"x":80.5,"y":104.2,"s":0.2,"a":0},{"x":84.6,"y":104.2,"s":0.2,"a":0},{"x":88.8,"y":104.2,"s":0.2,"a":0},{"x":92.9,"y":104.2,"s":0.2,"a":0},{"x":97,"y":104.2,"s":0.15,"a":0},
{"x":-27.3,"y":100.1,"s":0.45,"a":90},{"x":-23.1,"y":100.1,"s":0.6,"a":115},{"x":-19,"y":100.1,"s":0.7,"a":115},{"x":-14.8,"y":100.1,"s":0.7,"a":120},{"x":-10.7,"y":100.1,"s":0.85,"a":120},{"x":-6.6,"y":100.1,"s":0.85,"a":120},{"x":-2.4,"y":100.1,"s":1,"a":125},{"x":1.7,"y":100.1,"s":1.05,"a":130},{"x":5.9,"y":100.1,"s":1.1,"a":130},{"x":10,"y":100.1,"s":1.15,"a":130},{"x":14.2,"y":100.1,"s":1.05,"a":135},{"x":18.3,"y":100.1,"s":0.75,"a":80},{"x":22.4,"y":100.1,"s":0.8,"a":55},{"x":26.6,"y":100.1,"s":0.7,"a":50},{"x":30.7,"y":100.1,"s":0.6,"a":50},{"x":34.9,"y":100.1,"s":0.55,"a":50},{"x":39,"y":100.1,"s":0.55,"a":50},{"x":43.2,"y":100.1,"s":0.45,"a":50},{"x":47.3,"y":100.1,"s":0.25,"a":60},{"x":51.5,"y":100.1,"s":0.12,"a":90},{"x":55.6,"y":100.1,"s":0.08,"a":80},{"x":59.7,"y":100.1,"s":0.06,"a":80},{"x":63.9,"y":100.1,"s":0.06,"a":80},{"x":68,"y":100.1,"s":0.08,"a":80},{"x":72.2,"y":100.1,"s":0.12,"a":0},{"x":76.3,"y":100.1,"s":0.15,"a":0},{"x":80.5,"y":100.1,"s":0.18,"a":0},{"x":84.6,"y":100.1,"s":0.2,"a":0},{"x":88.8,"y":100.1,"s":0.2,"a":0},{"x":92.9,"y":100.1,"s":0.18,"a":0},{"x":97,"y":100.1,"s":0.15,"a":0},
{"x":-27.3,"y":95.9,"s":0.55,"a":95},{"x":-23.1,"y":95.9,"s":0.6,"a":92},{"x":-19,"y":95.9,"s":0.72,"a":100},{"x":-14.8,"y":95.9,"s":0.75,"a":100},{"x":-10.7,"y":95.9,"s":0.85,"a":105},{"x":-6.6,"y":95.9,"s":0.95,"a":112},{"x":-2.4,"y":95.9,"s":1.05,"a":112},{"x":1.7,"y":95.9,"s":1.15,"a":118},{"x":5.9,"y":95.9,"s":1.15,"a":118},{"x":10,"y":95.9,"s":1.2,"a":118},{"x":14.2,"y":95.9,"s":1.72,"a":92},{"x":18.3,"y":95.9,"s":1.6,"a":90},{"x":22.4,"y":95.9,"s":1.3,"a":85},{"x":26.6,"y":95.9,"s":0.85,"a":65},{"x":30.7,"y":95.9,"s":0.8,"a":62},{"x":34.9,"y":95.9,"s":0.65,"a":65},{"x":39,"y":95.9,"s":0.55,"a":70},{"x":43.2,"y":95.9,"s":0.5,"a":60},{"x":47.3,"y":95.9,"s":0.4,"a":55},{"x":51.5,"y":95.9,"s":0.28,"a":100},{"x":55.6,"y":95.9,"s":0.15,"a":100},{"x":59.7,"y":95.9,"s":0.08,"a":90},{"x":63.9,"y":95.9,"s":0.06,"a":90},{"x":68,"y":95.9,"s":0.1,"a":60},{"x":72.2,"y":95.9,"s":0.12,"a":30},{"x":76.3,"y":95.9,"s":0.15,"a":0},{"x":80.5,"y":95.9,"s":0.18,"a":0},{"x":84.6,"y":95.9,"s":0.18,"a":0},{"x":88.8,"y":95.9,"s":0.18,"a":0},{"x":92.9,"y":95.9,"s":0.18,"a":0},{"x":97,"y":95.9,"s":0.15,"a":0},
{"x":-27.3,"y":91.8,"s":0.55,"a":92},{"x":-23.1,"y":91.8,"s":0.65,"a":90},{"x":-19,"y":91.8,"s":0.72,"a":90},{"x":-14.8,"y":91.8,"s":0.72,"a":92},{"x":-10.7,"y":91.8,"s":0.75,"a":95},{"x":-6.6,"y":91.8,"s":0.95,"a":100},{"x":-2.4,"y":91.8,"s":1.05,"a":105},{"x":1.7,"y":91.8,"s":1.25,"a":108},{"x":5.9,"y":91.8,"s":1.35,"a":108},{"x":10,"y":91.8,"s":1.4,"a":105},{"x":14.2,"y":91.8,"s":1.4,"a":100},{"x":18.3,"y":91.8,"s":1.35,"a":95},{"x":22.4,"y":91.8,"s":1.25,"a":90},{"x":26.6,"y":91.8,"s":1.05,"a":85},{"x":30.7,"y":91.8,"s":0.9,"a":85},{"x":34.9,"y":91.8,"s":0.8,"a":90},{"x":39,"y":91.8,"s":0.7,"a":90},{"x":43.2,"y":91.8,"s":0.55,"a":90},{"x":47.3,"y":91.8,"s":0.4,"a":90},{"x":51.5,"y":91.8,"s":0.28,"a":90},{"x":55.6,"y":91.8,"s":0.15,"a":90},{"x":59.7,"y":91.8,"s":0.08,"a":90},{"x":63.9,"y":91.8,"s":0.06,"a":90},{"x":68,"y":91.8,"s":0.1,"a":60},{"x":72.2,"y":91.8,"s":0.12,"a":30},{"x":76.3,"y":91.8,"s":0.15,"a":30},{"x":80.5,"y":91.8,"s":0.18,"a":30},{"x":84.6,"y":91.8,"s":0.18,"a":30},{"x":88.8,"y":91.8,"s":0.18,"a":30},{"x":92.9,"y":91.8,"s":0.18,"a":30},{"x":97,"y":91.8,"s":0.15,"a":30},
{"x":-23.1,"y":87.6,"s":0.5,"a":80},{"x":-19,"y":87.6,"s":0.6,"a":85},{"x":-14.8,"y":87.6,"s":0.7,"a":90},{"x":-10.7,"y":87.6,"s":0.7,"a":92},{"x":-6.6,"y":87.6,"s":0.85,"a":95},{"x":-2.4,"y":87.6,"s":1,"a":98},{"x":1.7,"y":87.6,"s":1.1,"a":100},{"x":5.9,"y":87.6,"s":1.3,"a":105},{"x":10,"y":87.6,"s":1.4,"a":105},{"x":14.2,"y":87.6,"s":1.4,"a":105},{"x":18.3,"y":87.6,"s":1.3,"a":102},{"x":22.4,"y":87.6,"s":1.25,"a":98},{"x":26.6,"y":87.6,"s":1.15,"a":95},{"x":30.7,"y":87.6,"s":1,"a":90},{"x":34.9,"y":87.6,"s":0.85,"a":100},{"x":39,"y":87.6,"s":0.65,"a":110},{"x":43.2,"y":87.6,"s":0.5,"a":105},{"x":47.3,"y":87.6,"s":0.4,"a":100},{"x":51.5,"y":87.6,"s":0.25,"a":110},{"x":55.6,"y":87.6,"s":0.1,"a":100},{"x":59.7,"y":87.6,"s":0.06,"a":90},{"x":63.9,"y":87.6,"s":0.1,"a":60},{"x":68,"y":87.6,"s":0.12,"a":45},{"x":72.2,"y":87.6,"s":0.18,"a":225},{"x":76.3,"y":87.6,"s":0.22,"a":225},{"x":80.5,"y":87.6,"s":0.25,"a":225},{"x":84.6,"y":87.6,"s":0.22,"a":225},{"x":88.8,"y":87.6,"s":0.2,"a":225},{"x":92.9,"y":87.6,"s":0.2,"a":230},{"x":97,"y":87.6,"s":0.18,"a":235},
{"x":-23.1,"y":83.5,"s":0.6,"a":75},{"x":-19,"y":83.5,"s":0.7,"a":80},{"x":-14.8,"y":83.5,"s":0.65,"a":85},{"x":-10.7,"y":83.5,"s":0.85,"a":90},{"x":-6.6,"y":83.5,"s":0.9,"a":92},{"x":-2.4,"y":83.5,"s":1,"a":92},{"x":1.7,"y":83.5,"s":1.15,"a":95},{"x":5.9,"y":83.5,"s":1.2,"a":98},{"x":10,"y":83.5,"s":1.2,"a":100},{"x":14.2,"y":83.5,"s":1.25,"a":103},{"x":18.3,"y":83.5,"s":1.3,"a":105},{"x":22.4,"y":83.5,"s":1.3,"a":108},{"x":26.6,"y":83.5,"s":1.25,"a":110},{"x":30.7,"y":83.5,"s":1.1,"a":112},{"x":34.9,"y":83.5,"s":0.95,"a":115},{"x":39,"y":83.5,"s":0.75,"a":120},{"x":43.2,"y":83.5,"s":0.6,"a":125},{"x":47.3,"y":83.5,"s":0.5,"a":125},{"x":51.5,"y":83.5,"s":0.38,"a":130},{"x":55.6,"y":83.5,"s":0.2,"a":125},{"x":59.7,"y":83.5,"s":0.15,"a":100},{"x":63.9,"y":83.5,"s":0.12,"a":90},{"x":68,"y":83.5,"s":0.18,"a":240},{"x":72.2,"y":83.5,"s":0.25,"a":225},{"x":76.3,"y":83.5,"s":0.28,"a":230},{"x":80.5,"y":83.5,"s":0.25,"a":225},{"x":84.6,"y":83.5,"s":0.25,"a":225},{"x":88.8,"y":83.5,"s":0.25,"a":240},{"x":92.9,"y":83.5,"s":0.22,"a":240},{"x":97,"y":83.5,"s":0.22,"a":245},
{"x":-19,"y":79.3,"s":0.55,"a":75},{"x":-14.8,"y":79.3,"s":0.6,"a":78},{"x":-10.7,"y":79.3,"s":0.75,"a":78},{"x":-6.6,"y":79.3,"s":0.95,"a":80},{"x":-2.4,"y":79.3,"s":1.15,"a":85},{"x":1.7,"y":79.3,"s":1.15,"a":88},{"x":5.9,"y":79.3,"s":1.15,"a":92},{"x":10,"y":79.3,"s":1.2,"a":95},{"x":14.2,"y":79.3,"s":1.25,"a":100},{"x":18.3,"y":79.3,"s":1.3,"a":105},{"x":22.4,"y":79.3,"s":1.35,"a":112},{"x":26.6,"y":79.3,"s":1.25,"a":115},{"x":30.7,"y":79.3,"s":1.2,"a":120},{"x":34.9,"y":79.3,"s":1.15,"a":122},{"x":39,"y":79.3,"s":1,"a":125},{"x":43.2,"y":79.3,"s":0.8,"a":130},{"x":47.3,"y":79.3,"s":0.6,"a":145},{"x":51.5,"y":79.3,"s":0.38,"a":150},{"x":55.6,"y":79.3,"s":0.22,"a":130},{"x":59.7,"y":79.3,"s":0.15,"a":90},{"x":63.9,"y":79.3,"s":0.2,"a":90},{"x":68,"y":79.3,"s":0.25,"a":240},{"x":72.2,"y":79.3,"s":0.28,"a":225},{"x":76.3,"y":79.3,"s":0.28,"a":225},{"x":80.5,"y":79.3,"s":0.28,"a":225},{"x":84.6,"y":79.3,"s":0.25,"a":230},{"x":88.8,"y":79.3,"s":0.22,"a":240},{"x":92.9,"y":79.3,"s":0.25,"a":240},{"x":97,"y":79.3,"s":0.25,"a":250},
{"x":-19,"y":75.2,"s":0.3,"a":85},{"x":-14.8,"y":75.2,"s":0.4,"a":45},{"x":-10.7,"y":75.2,"s":0.6,"a":55},{"x":-6.6,"y":75.2,"s":0.65,"a":75},{"x":-2.4,"y":75.2,"s":0.7,"a":85},{"x":1.7,"y":75.2,"s":0.7,"a":90},{"x":5.9,"y":75.2,"s":1,"a":90},{"x":10,"y":75.2,"s":1.05,"a":90},{"x":14.2,"y":75.2,"s":1.2,"a":98},{"x":18.3,"y":75.2,"s":1.2,"a":105},{"x":22.4,"y":75.2,"s":1.2,"a":112},{"x":26.6,"y":75.2,"s":1.25,"a":118},{"x":30.7,"y":75.2,"s":1.3,"a":122},{"x":34.9,"y":75.2,"s":1.2,"a":130},{"x":39,"y":75.2,"s":1.15,"a":135},{"x":43.2,"y":75.2,"s":0.95,"a":150},{"x":47.3,"y":75.2,"s":0.8,"a":165},{"x":51.5,"y":75.2,"s":0.4,"a":170},{"x":55.6,"y":75.2,"s":0.18,"a":100},{"x":59.7,"y":75.2,"s":0.12,"a":100},{"x":63.9,"y":75.2,"s":0.15,"a":90},{"x":68,"y":75.2,"s":0.2,"a":80},{"x":72.2,"y":75.2,"s":0.25,"a":240},{"x":76.3,"y":75.2,"s":0.28,"a":225},{"x":80.5,"y":75.2,"s":0.28,"a":225},{"x":84.6,"y":75.2,"s":0.25,"a":235},{"x":88.8,"y":75.2,"s":0.25,"a":240},{"x":92.9,"y":75.2,"s":0.22,"a":240},{"x":97,"y":75.2,"s":0.22,"a":250},
{"x":-19,"y":71,"s":0.3,"a":250},{"x":-14.8,"y":71,"s":0.5,"a":50},{"x":-10.7,"y":71,"s":0.45,"a":50},{"x":-6.6,"y":71,"s":0.42,"a":75},{"x":-2.4,"y":71,"s":0.42,"a":85},{"x":1.7,"y":71,"s":0.45,"a":90},{"x":5.9,"y":71,"s":0.55,"a":90},{"x":10,"y":71,"s":0.8,"a":98},{"x":14.2,"y":71,"s":1,"a":105},{"x":18.3,"y":71,"s":1,"a":115},{"x":22.4,"y":71,"s":1.1,"a":120},{"x":26.6,"y":71,"s":1.1,"a":130},{"x":30.7,"y":71,"s":1.35,"a":145},{"x":34.9,"y":71,"s":1.2,"a":145},{"x":39,"y":71,"s":1.3,"a":150},{"x":43.2,"y":71,"s":1.05,"a":155},{"x":47.3,"y":71,"s":0.95,"a":165},{"x":51.5,"y":71,"s":0.7,"a":170},{"x":55.6,"y":71,"s":0.35,"a":175},{"x":59.7,"y":71,"s":0.1,"a":90},{"x":63.9,"y":71,"s":0.12,"a":100},{"x":68,"y":71,"s":0.15,"a":60},{"x":72.2,"y":71,"s":0.2,"a":45},{"x":76.3,"y":71,"s":0.3,"a":20},{"x":80.5,"y":71,"s":0.3,"a":30},{"x":84.6,"y":71,"s":0.25,"a":40},{"x":88.8,"y":71,"s":0.25,"a":45},{"x":92.9,"y":71,"s":0.22,"a":50},{"x":97,"y":71,"s":0.22,"a":60},
{"x":-14.8,"y":66.9,"s":0.35,"a":40},{"x":-10.7,"y":66.9,"s":0.38,"a":40},{"x":-6.6,"y":66.9,"s":0.38,"a":45},{"x":-2.4,"y":66.9,"s":0.38,"a":45},{"x":1.7,"y":66.9,"s":0.35,"a":65},{"x":5.9,"y":66.9,"s":0.32,"a":80},{"x":10,"y":66.9,"s":0.38,"a":95},{"x":14.2,"y":66.9,"s":0.55,"a":110},{"x":18.3,"y":66.9,"s":0.75,"a":120},{"x":22.4,"y":66.9,"s":0.85,"a":130},{"x":26.6,"y":66.9,"s":0.95,"a":135},{"x":30.7,"y":66.9,"s":1.15,"a":150},{"x":34.9,"y":66.9,"s":1.3,"a":155},{"x":39,"y":66.9,"s":1.45,"a":160},{"x":43.2,"y":66.9,"s":1.2,"a":160},{"x":47.3,"y":66.9,"s":1.05,"a":155},{"x":51.5,"y":66.9,"s":0.85,"a":155},{"x":55.6,"y":66.9,"s":0.45,"a":150},{"x":59.7,"y":66.9,"s":0.1,"a":130},{"x":63.9,"y":66.9,"s":0.12,"a":50},{"x":68,"y":66.9,"s":0.15,"a":30},{"x":72.2,"y":66.9,"s":0.18,"a":20},{"x":76.3,"y":66.9,"s":0.22,"a":10},{"x":80.5,"y":66.9,"s":0.25,"a":10},{"x":84.6,"y":66.9,"s":0.25,"a":30},{"x":88.8,"y":66.9,"s":0.22,"a":30},{"x":92.9,"y":66.9,"s":0.22,"a":40},{"x":97,"y":66.9,"s":0.2,"a":45},
{"x":-14.8,"y":62.7,"s":0.25,"a":0},{"x":-10.7,"y":62.7,"s":0.25,"a":5},{"x":-6.6,"y":62.7,"s":0.28,"a":5},{"x":-2.4,"y":62.7,"s":0.35,"a":20},{"x":1.7,"y":62.7,"s":0.3,"a":200},{"x":5.9,"y":62.7,"s":0.28,"a":225},{"x":10,"y":62.7,"s":0.28,"a":230},{"x":14.2,"y":62.7,"s":0.35,"a":110},{"x":18.3,"y":62.7,"s":0.55,"a":125},{"x":22.4,"y":62.7,"s":0.7,"a":140},{"x":26.6,"y":62.7,"s":0.9,"a":150},{"x":30.7,"y":62.7,"s":1.1,"a":160},{"x":34.9,"y":62.7,"s":1.25,"a":165},{"x":39,"y":62.7,"s":1.35,"a":162},{"x":43.2,"y":62.7,"s":1.3,"a":165},{"x":47.3,"y":62.7,"s":1.2,"a":165},{"x":51.5,"y":62.7,"s":0.95,"a":145},{"x":55.6,"y":62.7,"s":0.55,"a":140},{"x":59.7,"y":62.7,"s":0.2,"a":130},{"x":68,"y":62.7,"s":0.1,"a":0},{"x":72.2,"y":62.7,"s":0.15,"a":0},{"x":76.3,"y":62.7,"s":0.2,"a":0},{"x":80.5,"y":62.7,"s":0.25,"a":0},{"x":84.6,"y":62.7,"s":0.28,"a":0},{"x":88.8,"y":62.7,"s":0.25,"a":10},{"x":92.9,"y":62.7,"s":0.2,"a":20},{"x":97,"y":62.7,"s":0.2,"a":30}
]},
"encoding":{"x":{"field":"x","type":"quantitative","scale":{"domain":[-54.66,102],"nice":false,"zero":false},"axis":{"values":[-40,-20,0,20,40,60,80,100],"grid":false,"domain":false,"tickSize":10,"tickWidth":2.3,"tickColor":"black","labelFontSize":29,"labelColor":"black","labelPadding":8,"title":"X (cm)","titleFontSize":35,"titleFontWeight":"normal","titleColor":"black","titlePadding":14,"labelFont":"DejaVu Sans","titleFont":"DejaVu Sans"}},"y":{"field":"y","type":"quantitative","scale":{"domain":[-5.07,252.84],"nice":false,"zero":false},"axis":{"values":[0,50,100,150,200,250],"grid":false,"domain":false,"tickSize":10,"tickWidth":2.3,"tickColor":"black","labelFontSize":29,"labelColor":"black","labelPadding":13,"title":"Y (cm)","titleFontSize":35,"titleFontWeight":"normal","titleColor":"black","titlePadding":0,"labelFont":"DejaVu Sans","titleFont":"DejaVu Sans"}}},
"resolve":{"scale":{"size":"independent"}},
"layer":[
{"data":{"values":[{"x":0,"y":0,"x2":216.5,"y2":125},{"x":0,"y":0,"x2":125,"y2":216.5},{"x":0,"y":0,"x2":0,"y2":250},{"x":0,"y":0,"x2":-125,"y2":216.5},{"x":0,"y":0,"x2":-216.5,"y2":125},{"x":0,"y":0,"x2":250,"y2":0},{"x":0,"y":0,"x2":-250,"y2":0},{"x":0,"y":0,"x2":-216.5,"y2":-125},{"x":0,"y":0,"x2":-125,"y2":-216.5},{"x":0,"y":0,"x2":0,"y2":-250},{"x":0,"y":0,"x2":125,"y2":-216.5},{"x":0,"y":0,"x2":216.5,"y2":-125}]},"mark":{"type":"rule","clip":true,"stroke":"#d3d3d3","strokeWidth":3,"strokeDash":[11,5]},"encoding":{"x2":{"field":"x2"},"y2":{"field":"y2"}}},
{"data":{"values":[{"x":0,"y":0,"r":50},{"x":0,"y":0,"r":100},{"x":0,"y":0,"r":150},{"x":0,"y":0,"r":200}]},"mark":{"type":"point","clip":true,"filled":false,"stroke":"#d3d3d3","strokeWidth":3,"strokeDash":[11,5],"shape":"circle","opacity":1},"encoding":{"size":{"field":"r","type":"quantitative","legend":null,"scale":{"type":"pow","exponent":2,"domain":[0,250],"range":[0,6086089]}}}},
{"mark":{"type":"point","shape":"square","filled":true,"opacity":1,"size":460},"encoding":{"color":{"field":"s","type":"quantitative","scale":{"scheme":"plasma","domain":[0,1],"clamp":true},"legend":{"orient":"none","legendX":444,"legendY":1129,"direction":"horizontal","title":"Speed (cm s⁻¹)","gradientLength":277,"gradientThickness":32,"gradientStrokeColor":"black","gradientStrokeWidth":2,"titleFontSize":29,"titleFontWeight":"normal","titleColor":"black","titleFont":"DejaVu Sans","titleAnchor":"middle","titleLimit":400,"labelFontSize":29,"labelColor":"black","labelFont":"DejaVu Sans","labelAlign":"center","values":[0,0.5,1],"format":".1f","labelOffset":21,"titlePadding":8}}}},
{"mark":{"type":"point","shape":"square","filled":true,"opacity":0.45,"size":800},"encoding":{"color":{"field":"s","type":"quantitative","legend":null}}},
{"data":{"values":[{"x":-20,"x2":101,"y":59.5,"y2":62.2},{"x":-52,"x2":-49.4,"y":146,"y2":246},{"x":98,"x2":101.5,"y":59,"y2":140},{"x":98.9,"x2":101.5,"y":140,"y2":165}]},"mark":{"type":"rect","fill":"white","stroke":null},"encoding":{"x2":{"field":"x2"},"y2":{"field":"y2"}}},
{"transform":[{"filter":"datum.s<0.35"}],"mark":{"type":"point","shape":"M0 -1L-0.42 -0.12L0.42 -0.12ZM0 0L0 -0.2","filled":true,"opacity":1,"fill":"black","stroke":"black","strokeWidth":1},"encoding":{"angle":{"field":"a","type":"quantitative","scale":null},"size":{"field":"s","type":"quantitative","legend":null,"scale":{"type":"pow","exponent":2,"domain":[0,2],"range":[0,12544]}}}},
{"transform":[{"filter":"datum.s>=0.35&&datum.s<0.7"}],"mark":{"type":"point","shape":"M0 -1L-0.17 -0.58L0.17 -0.58ZM0 0L0 -0.65","filled":true,"opacity":1,"fill":"black","stroke":"black","strokeWidth":1.3},"encoding":{"angle":{"field":"a","type":"quantitative","scale":null},"size":{"field":"s","type":"quantitative","legend":null,"scale":{"type":"pow","exponent":2,"domain":[0,2],"range":[0,12544]}}}},
{"transform":[{"filter":"datum.s>=0.7&&datum.s<1"}],"mark":{"type":"point","shape":"M0 -1L-0.11 -0.72L0.11 -0.72ZM0 0L0 -0.78","filled":true,"opacity":1,"fill":"black","stroke":"black","strokeWidth":1.4},"encoding":{"angle":{"field":"a","type":"quantitative","scale":null},"size":{"field":"s","type":"quantitative","legend":null,"scale":{"type":"pow","exponent":2,"domain":[0,2],"range":[0,12544]}}}},
{"transform":[{"filter":"datum.s>=1"}],"mark":{"type":"point","shape":"M0 -1L-0.07 -0.82L0.07 -0.82ZM0 0L0 -0.86","filled":true,"opacity":1,"fill":"black","stroke":"black","strokeWidth":1.4},"encoding":{"angle":{"field":"a","type":"quantitative","scale":null},"size":{"field":"s","type":"quantitative","legend":null,"scale":{"type":"pow","exponent":2,"domain":[0,2],"range":[0,12544]}}}},
{"data":{"values":[{"x":-37.2,"y":63.3,"s":1,"a":90}]},"mark":{"type":"point","shape":"M0 -1L-0.07 -0.8L0.07 -0.8ZM0 0L0 -0.85","filled":true,"opacity":1,"fill":"black","stroke":"black","strokeWidth":1.2},"encoding":{"angle":{"field":"a","type":"quantitative","scale":null},"size":{"field":"s","type":"quantitative","legend":null,"scale":{"type":"pow","exponent":2,"domain":[0,2],"range":[0,12544]}}}},
{"data":{"values":[{"x":0,"y":0,"r":250}]},"mark":{"type":"point","clip":true,"filled":false,"stroke":"black","strokeWidth":4.2,"shape":"circle","opacity":1},"encoding":{"size":{"field":"r","type":"quantitative","legend":null,"scale":{"type":"pow","exponent":2,"domain":[0,250],"range":[0,6086089]}}}},
{"data":{"values":[{"x":0,"y":0}]},"mark":{"type":"point","shape":"circle","filled":true,"fill":"black","stroke":"black","opacity":1,"size":230},"encoding":{}},
{"data":{"values":[{"x":91.3,"y":13}]},"mark":{"type":"point","shape":"M0 -1.23L1 0L0 1.23Z","filled":true,"fill":"#f0f921","stroke":"black","strokeWidth":2,"opacity":1,"size":676},"encoding":{}},
{"data":{"values":[{"x":35.2,"y":9.7,"y2":7.7},{"x":63.2,"y":9.7,"y2":7.7},{"x":91.3,"y":9.7,"y2":7.7}]},"mark":{"type":"rule","stroke":"black","strokeWidth":2.2},"encoding":{"y2":{"field":"y2"}}},
{"data":{"values":[{"x":-34.2,"y":56.6,"t":"1 cm s⁻¹"},{"x":-34.2,"y":41.2,"t":"Vectors"},{"x":-34.2,"y":34.9,"t":"subsampled"},{"x":-34.2,"y":28.2,"t":"by factor 6"}]},"mark":{"type":"text","font":"DejaVu Sans","fontSize":29.5,"align":"center","baseline":"middle","color":"black"},"encoding":{"text":{"field":"t"}}},
{"data":{"values":[{"x":-51.4,"y":11.2,"t":"Max speed ="},{"x":-51.4,"y":4.9,"t":"1.72 cm s⁻¹"}]},"mark":{"type":"text","font":"DejaVu Sans","fontSize":29.5,"align":"left","baseline":"middle","color":"black"},"encoding":{"text":{"field":"t"}}}
]}
